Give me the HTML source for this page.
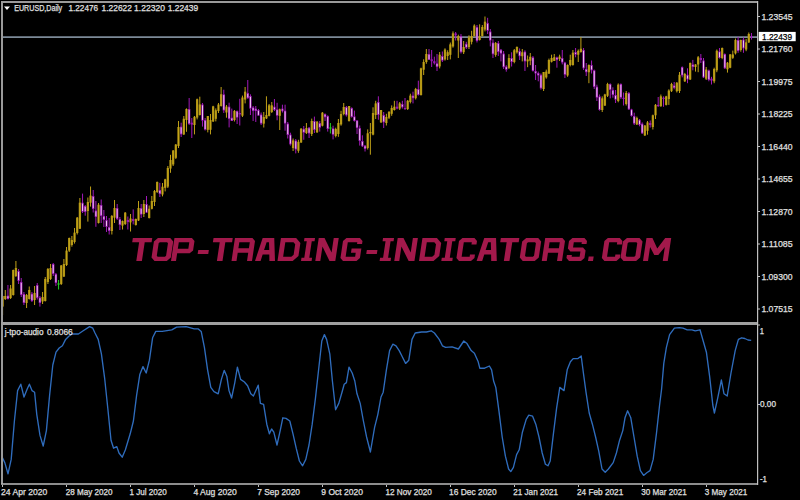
<!DOCTYPE html>
<html><head><meta charset="utf-8">
<style>
html,body{margin:0;padding:0;background:#000;}
body{width:800px;height:500px;overflow:hidden;}
svg{display:block;}
.t{font-family:"Liberation Sans",sans-serif;fill:#e0e0e0;stroke:#e0e0e0;stroke-width:0.25px;}
.wm{font-family:"Liberation Sans",sans-serif;font-weight:bold;font-style:italic;fill:#a0184c;}
</style></head><body>
<svg width="800" height="500" viewBox="0 0 800 500">
<rect x="0" y="0" width="800" height="500" fill="#000"/>
<line x1="3" y1="37.1" x2="757" y2="37.1" stroke="#7c8a98" stroke-width="1.6"/>
<g id="candles">
<line x1="2.60" y1="295.6" x2="2.60" y2="315.0" stroke="#c0a018" stroke-width="1"/>
<rect x="1.45" y="296.0" width="2.3" height="10.60" fill="#a88c10"/>
<line x1="2.60" y1="296.0" x2="2.60" y2="306.60" stroke="#ccac20" stroke-width="0.8"/>
<line x1="5.27" y1="290.0" x2="5.27" y2="300.0" stroke="#c0a018" stroke-width="1"/>
<rect x="4.12" y="296.0" width="2.3" height="3.00" fill="#a88c10"/>
<line x1="5.27" y1="296.0" x2="5.27" y2="299.00" stroke="#ccac20" stroke-width="0.8"/>
<line x1="7.93" y1="285.0" x2="7.93" y2="299.5" stroke="#a018b8" stroke-width="1"/>
<rect x="6.78" y="295.6" width="2.3" height="3.40" fill="#9c14b4"/>
<line x1="7.93" y1="296.40" x2="7.93" y2="298.20" stroke="#f6d4f6" stroke-width="0.95"/>
<line x1="10.60" y1="285.0" x2="10.60" y2="299.0" stroke="#c0a018" stroke-width="1"/>
<rect x="9.45" y="288.5" width="2.3" height="9.50" fill="#a88c10"/>
<line x1="10.60" y1="288.5" x2="10.60" y2="298.00" stroke="#ccac20" stroke-width="0.8"/>
<line x1="13.26" y1="269.6" x2="13.26" y2="295.6" stroke="#c0a018" stroke-width="1"/>
<rect x="12.11" y="270.0" width="2.3" height="25.00" fill="#a88c10"/>
<line x1="13.26" y1="270.0" x2="13.26" y2="295.00" stroke="#ccac20" stroke-width="0.8"/>
<line x1="15.92" y1="261.0" x2="15.92" y2="277.0" stroke="#c0a018" stroke-width="1"/>
<rect x="14.77" y="268.0" width="2.3" height="8.00" fill="#a88c10"/>
<line x1="15.92" y1="268.0" x2="15.92" y2="276.00" stroke="#ccac20" stroke-width="0.8"/>
<line x1="18.59" y1="269.0" x2="18.59" y2="284.0" stroke="#a018b8" stroke-width="1"/>
<rect x="17.44" y="271.0" width="2.3" height="10.00" fill="#9c14b4"/>
<line x1="18.59" y1="271.80" x2="18.59" y2="280.20" stroke="#f6d4f6" stroke-width="0.95"/>
<line x1="21.26" y1="278.0" x2="21.26" y2="297.0" stroke="#a018b8" stroke-width="1"/>
<rect x="20.11" y="282.0" width="2.3" height="13.00" fill="#9c14b4"/>
<line x1="21.26" y1="282.80" x2="21.26" y2="294.20" stroke="#f6d4f6" stroke-width="0.95"/>
<line x1="23.92" y1="292.0" x2="23.92" y2="305.0" stroke="#a018b8" stroke-width="1"/>
<rect x="22.77" y="294.0" width="2.3" height="9.00" fill="#9c14b4"/>
<line x1="23.92" y1="294.80" x2="23.92" y2="302.20" stroke="#f6d4f6" stroke-width="0.95"/>
<line x1="26.59" y1="294.0" x2="26.59" y2="308.0" stroke="#c0a018" stroke-width="1"/>
<rect x="25.44" y="295.0" width="2.3" height="8.00" fill="#a88c10"/>
<line x1="26.59" y1="295.0" x2="26.59" y2="303.00" stroke="#ccac20" stroke-width="0.8"/>
<line x1="29.25" y1="286.5" x2="29.25" y2="299.5" stroke="#c0a018" stroke-width="1"/>
<rect x="28.10" y="290.0" width="2.3" height="9.00" fill="#a88c10"/>
<line x1="29.25" y1="290.0" x2="29.25" y2="299.00" stroke="#ccac20" stroke-width="0.8"/>
<line x1="31.92" y1="292.0" x2="31.92" y2="302.0" stroke="#a018b8" stroke-width="1"/>
<rect x="30.77" y="293.7" width="2.3" height="7.30" fill="#9c14b4"/>
<line x1="31.92" y1="294.50" x2="31.92" y2="300.20" stroke="#f6d4f6" stroke-width="0.95"/>
<line x1="34.58" y1="286.0" x2="34.58" y2="305.0" stroke="#c0a018" stroke-width="1"/>
<rect x="33.43" y="293.0" width="2.3" height="7.00" fill="#a88c10"/>
<line x1="34.58" y1="293.0" x2="34.58" y2="300.00" stroke="#ccac20" stroke-width="0.8"/>
<line x1="37.25" y1="283.0" x2="37.25" y2="299.5" stroke="#a018b8" stroke-width="1"/>
<rect x="36.10" y="285.0" width="2.3" height="13.00" fill="#9c14b4"/>
<line x1="37.25" y1="285.80" x2="37.25" y2="297.20" stroke="#f6d4f6" stroke-width="0.95"/>
<line x1="39.91" y1="296.0" x2="39.91" y2="306.6" stroke="#a018b8" stroke-width="1"/>
<rect x="38.76" y="297.5" width="2.3" height="5.50" fill="#9c14b4"/>
<line x1="39.91" y1="298.30" x2="39.91" y2="302.20" stroke="#f6d4f6" stroke-width="0.95"/>
<line x1="42.58" y1="292.0" x2="42.58" y2="304.0" stroke="#c0a018" stroke-width="1"/>
<rect x="41.43" y="297.0" width="2.3" height="4.50" fill="#a88c10"/>
<line x1="42.58" y1="297.0" x2="42.58" y2="301.50" stroke="#ccac20" stroke-width="0.8"/>
<line x1="45.24" y1="277.0" x2="45.24" y2="301.5" stroke="#c0a018" stroke-width="1"/>
<rect x="44.09" y="279.0" width="2.3" height="22.00" fill="#a88c10"/>
<line x1="45.24" y1="279.0" x2="45.24" y2="301.00" stroke="#ccac20" stroke-width="0.8"/>
<line x1="47.91" y1="268.0" x2="47.91" y2="284.0" stroke="#c0a018" stroke-width="1"/>
<rect x="46.76" y="269.0" width="2.3" height="13.00" fill="#a88c10"/>
<line x1="47.91" y1="269.0" x2="47.91" y2="282.00" stroke="#ccac20" stroke-width="0.8"/>
<line x1="50.57" y1="264.0" x2="50.57" y2="280.0" stroke="#c0a018" stroke-width="1"/>
<rect x="49.42" y="268.0" width="2.3" height="11.00" fill="#a88c10"/>
<line x1="50.57" y1="268.0" x2="50.57" y2="279.00" stroke="#ccac20" stroke-width="0.8"/>
<line x1="53.23" y1="263.0" x2="53.23" y2="276.0" stroke="#a018b8" stroke-width="1"/>
<rect x="52.09" y="264.0" width="2.3" height="10.00" fill="#9c14b4"/>
<line x1="53.23" y1="264.80" x2="53.23" y2="273.20" stroke="#f6d4f6" stroke-width="0.95"/>
<line x1="55.90" y1="273.0" x2="55.90" y2="286.0" stroke="#a018b8" stroke-width="1"/>
<rect x="54.75" y="274.0" width="2.3" height="9.00" fill="#9c14b4"/>
<line x1="55.90" y1="274.80" x2="55.90" y2="282.20" stroke="#f6d4f6" stroke-width="0.95"/>
<line x1="58.57" y1="280.0" x2="58.57" y2="289.5" stroke="#22d022" stroke-width="1"/>
<line x1="57.27" y1="284.0" x2="59.87" y2="284.0" stroke="#22d022" stroke-width="1"/>
<line x1="61.23" y1="265.0" x2="61.23" y2="285.0" stroke="#c0a018" stroke-width="1"/>
<rect x="60.08" y="265.5" width="2.3" height="18.50" fill="#a88c10"/>
<line x1="61.23" y1="265.5" x2="61.23" y2="284.00" stroke="#ccac20" stroke-width="0.8"/>
<line x1="63.90" y1="259.0" x2="63.90" y2="277.0" stroke="#c0a018" stroke-width="1"/>
<rect x="62.75" y="264.0" width="2.3" height="12.50" fill="#a88c10"/>
<line x1="63.90" y1="264.0" x2="63.90" y2="276.50" stroke="#ccac20" stroke-width="0.8"/>
<line x1="66.56" y1="247.0" x2="66.56" y2="266.0" stroke="#c0a018" stroke-width="1"/>
<rect x="65.41" y="250.6" width="2.3" height="14.40" fill="#a88c10"/>
<line x1="66.56" y1="250.6" x2="66.56" y2="265.00" stroke="#ccac20" stroke-width="0.8"/>
<line x1="69.22" y1="237.6" x2="69.22" y2="252.0" stroke="#c0a018" stroke-width="1"/>
<rect x="68.07" y="238.0" width="2.3" height="12.60" fill="#a88c10"/>
<line x1="69.22" y1="238.0" x2="69.22" y2="250.60" stroke="#ccac20" stroke-width="0.8"/>
<line x1="71.89" y1="236.0" x2="71.89" y2="246.7" stroke="#c0a018" stroke-width="1"/>
<rect x="70.74" y="240.0" width="2.3" height="5.00" fill="#a88c10"/>
<line x1="71.89" y1="240.0" x2="71.89" y2="245.00" stroke="#ccac20" stroke-width="0.8"/>
<line x1="74.55" y1="228.0" x2="74.55" y2="243.6" stroke="#c0a018" stroke-width="1"/>
<rect x="73.40" y="232.6" width="2.3" height="9.40" fill="#a88c10"/>
<line x1="74.55" y1="232.6" x2="74.55" y2="242.00" stroke="#ccac20" stroke-width="0.8"/>
<line x1="77.22" y1="217.0" x2="77.22" y2="234.5" stroke="#c0a018" stroke-width="1"/>
<rect x="76.07" y="217.7" width="2.3" height="15.30" fill="#a88c10"/>
<line x1="77.22" y1="217.7" x2="77.22" y2="233.00" stroke="#ccac20" stroke-width="0.8"/>
<line x1="79.88" y1="198.0" x2="79.88" y2="229.0" stroke="#c0a018" stroke-width="1"/>
<rect x="78.73" y="202.7" width="2.3" height="26.00" fill="#a88c10"/>
<line x1="79.88" y1="202.7" x2="79.88" y2="228.70" stroke="#ccac20" stroke-width="0.8"/>
<line x1="82.55" y1="193.6" x2="82.55" y2="213.0" stroke="#a018b8" stroke-width="1"/>
<rect x="81.40" y="202.7" width="2.3" height="9.10" fill="#9c14b4"/>
<line x1="82.55" y1="203.50" x2="82.55" y2="211.00" stroke="#f6d4f6" stroke-width="0.95"/>
<line x1="85.21" y1="205.0" x2="85.21" y2="215.7" stroke="#a018b8" stroke-width="1"/>
<rect x="84.06" y="206.0" width="2.3" height="6.00" fill="#9c14b4"/>
<line x1="85.21" y1="206.80" x2="85.21" y2="211.20" stroke="#f6d4f6" stroke-width="0.95"/>
<line x1="87.88" y1="197.5" x2="87.88" y2="221.6" stroke="#c0a018" stroke-width="1"/>
<rect x="86.73" y="202.0" width="2.3" height="9.00" fill="#a88c10"/>
<line x1="87.88" y1="202.0" x2="87.88" y2="211.00" stroke="#ccac20" stroke-width="0.8"/>
<line x1="90.55" y1="186.5" x2="90.55" y2="206.6" stroke="#c0a018" stroke-width="1"/>
<rect x="89.39" y="195.6" width="2.3" height="7.10" fill="#a88c10"/>
<line x1="90.55" y1="195.6" x2="90.55" y2="202.70" stroke="#ccac20" stroke-width="0.8"/>
<line x1="93.21" y1="190.0" x2="93.21" y2="212.5" stroke="#a018b8" stroke-width="1"/>
<rect x="92.06" y="196.0" width="2.3" height="13.00" fill="#9c14b4"/>
<line x1="93.21" y1="196.80" x2="93.21" y2="208.20" stroke="#f6d4f6" stroke-width="0.95"/>
<line x1="95.88" y1="201.0" x2="95.88" y2="226.8" stroke="#a018b8" stroke-width="1"/>
<rect x="94.72" y="210.5" width="2.3" height="6.50" fill="#9c14b4"/>
<line x1="95.88" y1="211.30" x2="95.88" y2="216.20" stroke="#f6d4f6" stroke-width="0.95"/>
<line x1="98.54" y1="203.0" x2="98.54" y2="223.5" stroke="#c0a018" stroke-width="1"/>
<rect x="97.39" y="204.7" width="2.3" height="18.30" fill="#a88c10"/>
<line x1="98.54" y1="204.7" x2="98.54" y2="223.00" stroke="#ccac20" stroke-width="0.8"/>
<line x1="101.20" y1="199.5" x2="101.20" y2="223.0" stroke="#a018b8" stroke-width="1"/>
<rect x="100.05" y="205.0" width="2.3" height="11.00" fill="#9c14b4"/>
<line x1="101.20" y1="205.80" x2="101.20" y2="215.20" stroke="#f6d4f6" stroke-width="0.95"/>
<line x1="103.87" y1="210.0" x2="103.87" y2="227.0" stroke="#a018b8" stroke-width="1"/>
<rect x="102.72" y="216.0" width="2.3" height="4.00" fill="#9c14b4"/>
<line x1="103.87" y1="216.80" x2="103.87" y2="219.20" stroke="#f6d4f6" stroke-width="0.95"/>
<line x1="106.53" y1="216.0" x2="106.53" y2="232.0" stroke="#a018b8" stroke-width="1"/>
<rect x="105.38" y="220.0" width="2.3" height="7.00" fill="#9c14b4"/>
<line x1="106.53" y1="220.80" x2="106.53" y2="226.20" stroke="#f6d4f6" stroke-width="0.95"/>
<line x1="109.20" y1="218.0" x2="109.20" y2="234.5" stroke="#a018b8" stroke-width="1"/>
<rect x="108.05" y="227.0" width="2.3" height="4.00" fill="#9c14b4"/>
<line x1="109.20" y1="227.80" x2="109.20" y2="230.20" stroke="#f6d4f6" stroke-width="0.95"/>
<line x1="111.86" y1="215.0" x2="111.86" y2="234.5" stroke="#c0a018" stroke-width="1"/>
<rect x="110.71" y="216.0" width="2.3" height="15.00" fill="#a88c10"/>
<line x1="111.86" y1="216.0" x2="111.86" y2="231.00" stroke="#ccac20" stroke-width="0.8"/>
<line x1="114.53" y1="200.0" x2="114.53" y2="223.0" stroke="#c0a018" stroke-width="1"/>
<rect x="113.38" y="208.0" width="2.3" height="9.70" fill="#a88c10"/>
<line x1="114.53" y1="208.0" x2="114.53" y2="217.70" stroke="#ccac20" stroke-width="0.8"/>
<line x1="117.19" y1="204.0" x2="117.19" y2="220.0" stroke="#a018b8" stroke-width="1"/>
<rect x="116.04" y="208.0" width="2.3" height="11.00" fill="#9c14b4"/>
<line x1="117.19" y1="208.80" x2="117.19" y2="218.20" stroke="#f6d4f6" stroke-width="0.95"/>
<line x1="119.86" y1="217.0" x2="119.86" y2="230.0" stroke="#a018b8" stroke-width="1"/>
<rect x="118.71" y="219.0" width="2.3" height="6.00" fill="#9c14b4"/>
<line x1="119.86" y1="219.80" x2="119.86" y2="224.20" stroke="#f6d4f6" stroke-width="0.95"/>
<line x1="122.52" y1="220.5" x2="122.52" y2="229.5" stroke="#c0a018" stroke-width="1"/>
<rect x="121.37" y="221.0" width="2.3" height="4.60" fill="#a88c10"/>
<line x1="122.52" y1="221.0" x2="122.52" y2="225.60" stroke="#ccac20" stroke-width="0.8"/>
<line x1="125.19" y1="212.0" x2="125.19" y2="225.0" stroke="#c0a018" stroke-width="1"/>
<rect x="124.04" y="212.7" width="2.3" height="11.30" fill="#a88c10"/>
<line x1="125.19" y1="212.7" x2="125.19" y2="224.00" stroke="#ccac20" stroke-width="0.8"/>
<line x1="127.85" y1="216.5" x2="127.85" y2="229.5" stroke="#a018b8" stroke-width="1"/>
<rect x="126.70" y="220.0" width="2.3" height="2.00" fill="#9c14b4"/>
<line x1="130.52" y1="214.0" x2="130.52" y2="231.5" stroke="#c0a018" stroke-width="1"/>
<rect x="129.37" y="218.5" width="2.3" height="3.90" fill="#a88c10"/>
<line x1="130.52" y1="218.5" x2="130.52" y2="222.40" stroke="#ccac20" stroke-width="0.8"/>
<line x1="133.19" y1="209.4" x2="133.19" y2="224.4" stroke="#a018b8" stroke-width="1"/>
<rect x="132.03" y="219.0" width="2.3" height="2.00" fill="#9c14b4"/>
<line x1="135.85" y1="218.5" x2="135.85" y2="225.6" stroke="#c0a018" stroke-width="1"/>
<rect x="134.70" y="219.0" width="2.3" height="6.00" fill="#a88c10"/>
<line x1="135.85" y1="219.0" x2="135.85" y2="225.00" stroke="#ccac20" stroke-width="0.8"/>
<line x1="138.51" y1="201.0" x2="138.51" y2="221.0" stroke="#c0a018" stroke-width="1"/>
<rect x="137.36" y="208.0" width="2.3" height="12.50" fill="#a88c10"/>
<line x1="138.51" y1="208.0" x2="138.51" y2="220.50" stroke="#ccac20" stroke-width="0.8"/>
<line x1="141.18" y1="204.0" x2="141.18" y2="218.0" stroke="#a018b8" stroke-width="1"/>
<rect x="140.03" y="208.0" width="2.3" height="6.60" fill="#9c14b4"/>
<line x1="141.18" y1="208.80" x2="141.18" y2="213.80" stroke="#f6d4f6" stroke-width="0.95"/>
<line x1="143.84" y1="200.0" x2="143.84" y2="217.0" stroke="#c0a018" stroke-width="1"/>
<rect x="142.69" y="204.0" width="2.3" height="10.00" fill="#a88c10"/>
<line x1="143.84" y1="204.0" x2="143.84" y2="214.00" stroke="#ccac20" stroke-width="0.8"/>
<line x1="146.51" y1="196.0" x2="146.51" y2="213.0" stroke="#a018b8" stroke-width="1"/>
<rect x="145.36" y="204.0" width="2.3" height="8.70" fill="#9c14b4"/>
<line x1="146.51" y1="204.80" x2="146.51" y2="211.90" stroke="#f6d4f6" stroke-width="0.95"/>
<line x1="149.17" y1="205.5" x2="149.17" y2="218.5" stroke="#c0a018" stroke-width="1"/>
<rect x="148.02" y="208.8" width="2.3" height="9.20" fill="#a88c10"/>
<line x1="149.17" y1="208.8" x2="149.17" y2="218.00" stroke="#ccac20" stroke-width="0.8"/>
<line x1="151.84" y1="196.0" x2="151.84" y2="209.4" stroke="#c0a018" stroke-width="1"/>
<rect x="150.69" y="201.0" width="2.3" height="7.80" fill="#a88c10"/>
<line x1="151.84" y1="201.0" x2="151.84" y2="208.80" stroke="#ccac20" stroke-width="0.8"/>
<line x1="154.50" y1="190.0" x2="154.50" y2="206.0" stroke="#c0a018" stroke-width="1"/>
<rect x="153.35" y="191.0" width="2.3" height="11.00" fill="#a88c10"/>
<line x1="154.50" y1="191.0" x2="154.50" y2="202.00" stroke="#ccac20" stroke-width="0.8"/>
<line x1="157.17" y1="181.5" x2="157.17" y2="193.0" stroke="#c0a018" stroke-width="1"/>
<rect x="156.02" y="182.0" width="2.3" height="10.00" fill="#a88c10"/>
<line x1="157.17" y1="182.0" x2="157.17" y2="192.00" stroke="#ccac20" stroke-width="0.8"/>
<line x1="159.84" y1="182.8" x2="159.84" y2="197.0" stroke="#a018b8" stroke-width="1"/>
<rect x="158.69" y="190.0" width="2.3" height="4.00" fill="#9c14b4"/>
<line x1="159.84" y1="190.80" x2="159.84" y2="193.20" stroke="#f6d4f6" stroke-width="0.95"/>
<line x1="162.50" y1="183.0" x2="162.50" y2="196.4" stroke="#c0a018" stroke-width="1"/>
<rect x="161.35" y="186.7" width="2.3" height="7.80" fill="#a88c10"/>
<line x1="162.50" y1="186.7" x2="162.50" y2="194.50" stroke="#ccac20" stroke-width="0.8"/>
<line x1="165.16" y1="178.8" x2="165.16" y2="191.4" stroke="#c0a018" stroke-width="1"/>
<rect x="164.01" y="179.4" width="2.3" height="8.40" fill="#a88c10"/>
<line x1="165.16" y1="179.4" x2="165.16" y2="187.80" stroke="#ccac20" stroke-width="0.8"/>
<line x1="167.83" y1="166.0" x2="167.83" y2="188.0" stroke="#c0a018" stroke-width="1"/>
<rect x="166.68" y="168.0" width="2.3" height="18.60" fill="#a88c10"/>
<line x1="167.83" y1="168.0" x2="167.83" y2="186.60" stroke="#ccac20" stroke-width="0.8"/>
<line x1="170.50" y1="154.8" x2="170.50" y2="172.8" stroke="#c0a018" stroke-width="1"/>
<rect x="169.34" y="160.0" width="2.3" height="8.60" fill="#a88c10"/>
<line x1="170.50" y1="160.0" x2="170.50" y2="168.60" stroke="#ccac20" stroke-width="0.8"/>
<line x1="173.16" y1="150.0" x2="173.16" y2="166.0" stroke="#c0a018" stroke-width="1"/>
<rect x="172.01" y="150.6" width="2.3" height="13.80" fill="#a88c10"/>
<line x1="173.16" y1="150.6" x2="173.16" y2="164.40" stroke="#ccac20" stroke-width="0.8"/>
<line x1="175.82" y1="144.0" x2="175.82" y2="159.0" stroke="#c0a018" stroke-width="1"/>
<rect x="174.67" y="144.6" width="2.3" height="13.20" fill="#a88c10"/>
<line x1="175.82" y1="144.6" x2="175.82" y2="157.80" stroke="#ccac20" stroke-width="0.8"/>
<line x1="178.49" y1="121.0" x2="178.49" y2="148.0" stroke="#c0a018" stroke-width="1"/>
<rect x="177.34" y="127.0" width="2.3" height="19.00" fill="#a88c10"/>
<line x1="178.49" y1="127.0" x2="178.49" y2="146.00" stroke="#ccac20" stroke-width="0.8"/>
<line x1="181.16" y1="122.7" x2="181.16" y2="137.0" stroke="#a018b8" stroke-width="1"/>
<rect x="180.00" y="126.6" width="2.3" height="7.80" fill="#9c14b4"/>
<line x1="181.16" y1="127.40" x2="181.16" y2="133.60" stroke="#f6d4f6" stroke-width="0.95"/>
<line x1="183.82" y1="116.0" x2="183.82" y2="135.0" stroke="#c0a018" stroke-width="1"/>
<rect x="182.67" y="118.8" width="2.3" height="15.60" fill="#a88c10"/>
<line x1="183.82" y1="118.8" x2="183.82" y2="134.40" stroke="#ccac20" stroke-width="0.8"/>
<line x1="186.48" y1="108.4" x2="186.48" y2="131.8" stroke="#c0a018" stroke-width="1"/>
<rect x="185.33" y="109.0" width="2.3" height="11.00" fill="#a88c10"/>
<line x1="186.48" y1="109.0" x2="186.48" y2="120.00" stroke="#ccac20" stroke-width="0.8"/>
<line x1="189.15" y1="98.0" x2="189.15" y2="125.0" stroke="#a018b8" stroke-width="1"/>
<rect x="188.00" y="109.0" width="2.3" height="15.00" fill="#9c14b4"/>
<line x1="189.15" y1="109.80" x2="189.15" y2="123.20" stroke="#f6d4f6" stroke-width="0.95"/>
<line x1="191.81" y1="118.0" x2="191.81" y2="138.0" stroke="#a018b8" stroke-width="1"/>
<rect x="190.66" y="122.7" width="2.3" height="1.90" fill="#9c14b4"/>
<line x1="194.48" y1="116.0" x2="194.48" y2="134.4" stroke="#c0a018" stroke-width="1"/>
<rect x="193.33" y="116.8" width="2.3" height="8.20" fill="#a88c10"/>
<line x1="194.48" y1="116.8" x2="194.48" y2="125.00" stroke="#ccac20" stroke-width="0.8"/>
<line x1="197.15" y1="98.6" x2="197.15" y2="119.4" stroke="#c0a018" stroke-width="1"/>
<rect x="196.00" y="99.3" width="2.3" height="18.20" fill="#a88c10"/>
<line x1="197.15" y1="99.3" x2="197.15" y2="117.50" stroke="#ccac20" stroke-width="0.8"/>
<line x1="199.81" y1="96.7" x2="199.81" y2="115.5" stroke="#c0a018" stroke-width="1"/>
<rect x="198.66" y="104.5" width="2.3" height="10.50" fill="#a88c10"/>
<line x1="199.81" y1="104.5" x2="199.81" y2="115.00" stroke="#ccac20" stroke-width="0.8"/>
<line x1="202.47" y1="103.0" x2="202.47" y2="126.6" stroke="#a018b8" stroke-width="1"/>
<rect x="201.32" y="104.5" width="2.3" height="16.20" fill="#9c14b4"/>
<line x1="202.47" y1="105.30" x2="202.47" y2="119.90" stroke="#f6d4f6" stroke-width="0.95"/>
<line x1="205.14" y1="118.0" x2="205.14" y2="130.5" stroke="#a018b8" stroke-width="1"/>
<rect x="203.99" y="120.0" width="2.3" height="9.80" fill="#9c14b4"/>
<line x1="205.14" y1="120.80" x2="205.14" y2="129.00" stroke="#f6d4f6" stroke-width="0.95"/>
<line x1="207.81" y1="116.0" x2="207.81" y2="132.4" stroke="#c0a018" stroke-width="1"/>
<rect x="206.66" y="116.0" width="2.3" height="13.80" fill="#a88c10"/>
<line x1="207.81" y1="116.0" x2="207.81" y2="129.80" stroke="#ccac20" stroke-width="0.8"/>
<line x1="210.47" y1="114.0" x2="210.47" y2="134.4" stroke="#c0a018" stroke-width="1"/>
<rect x="209.32" y="120.0" width="2.3" height="9.80" fill="#a88c10"/>
<line x1="210.47" y1="120.0" x2="210.47" y2="129.80" stroke="#ccac20" stroke-width="0.8"/>
<line x1="213.13" y1="105.8" x2="213.13" y2="122.0" stroke="#c0a018" stroke-width="1"/>
<rect x="211.98" y="106.4" width="2.3" height="15.00" fill="#a88c10"/>
<line x1="213.13" y1="106.4" x2="213.13" y2="121.40" stroke="#ccac20" stroke-width="0.8"/>
<line x1="215.80" y1="108.4" x2="215.80" y2="121.4" stroke="#c0a018" stroke-width="1"/>
<rect x="214.65" y="110.3" width="2.3" height="8.50" fill="#a88c10"/>
<line x1="215.80" y1="110.3" x2="215.80" y2="118.80" stroke="#ccac20" stroke-width="0.8"/>
<line x1="218.47" y1="103.0" x2="218.47" y2="113.0" stroke="#c0a018" stroke-width="1"/>
<rect x="217.31" y="104.5" width="2.3" height="6.50" fill="#a88c10"/>
<line x1="218.47" y1="104.5" x2="218.47" y2="111.00" stroke="#ccac20" stroke-width="0.8"/>
<line x1="221.13" y1="87.0" x2="221.13" y2="106.6" stroke="#c0a018" stroke-width="1"/>
<rect x="219.98" y="94.3" width="2.3" height="11.70" fill="#a88c10"/>
<line x1="221.13" y1="94.3" x2="221.13" y2="106.00" stroke="#ccac20" stroke-width="0.8"/>
<line x1="223.79" y1="89.7" x2="223.79" y2="113.0" stroke="#a018b8" stroke-width="1"/>
<rect x="222.64" y="94.3" width="2.3" height="16.20" fill="#9c14b4"/>
<line x1="223.79" y1="95.10" x2="223.79" y2="109.70" stroke="#f6d4f6" stroke-width="0.95"/>
<line x1="226.46" y1="105.0" x2="226.46" y2="117.7" stroke="#c0a018" stroke-width="1"/>
<rect x="225.31" y="106.6" width="2.3" height="5.90" fill="#a88c10"/>
<line x1="226.46" y1="106.6" x2="226.46" y2="112.50" stroke="#ccac20" stroke-width="0.8"/>
<line x1="229.12" y1="102.7" x2="229.12" y2="127.4" stroke="#a018b8" stroke-width="1"/>
<rect x="227.97" y="106.6" width="2.3" height="12.40" fill="#9c14b4"/>
<line x1="229.12" y1="107.40" x2="229.12" y2="118.20" stroke="#f6d4f6" stroke-width="0.95"/>
<line x1="231.79" y1="108.6" x2="231.79" y2="121.0" stroke="#a018b8" stroke-width="1"/>
<rect x="230.64" y="117.7" width="2.3" height="3.30" fill="#9c14b4"/>
<line x1="231.79" y1="118.50" x2="231.79" y2="120.20" stroke="#f6d4f6" stroke-width="0.95"/>
<line x1="234.45" y1="110.0" x2="234.45" y2="121.5" stroke="#c0a018" stroke-width="1"/>
<rect x="233.30" y="111.0" width="2.3" height="9.00" fill="#a88c10"/>
<line x1="234.45" y1="111.0" x2="234.45" y2="120.00" stroke="#ccac20" stroke-width="0.8"/>
<line x1="237.12" y1="110.5" x2="237.12" y2="124.0" stroke="#a018b8" stroke-width="1"/>
<rect x="235.97" y="111.0" width="2.3" height="6.70" fill="#9c14b4"/>
<line x1="237.12" y1="111.80" x2="237.12" y2="116.90" stroke="#f6d4f6" stroke-width="0.95"/>
<line x1="239.78" y1="98.8" x2="239.78" y2="125.5" stroke="#a018b8" stroke-width="1"/>
<rect x="238.63" y="113.0" width="2.3" height="1.40" fill="#9c14b4"/>
<line x1="242.45" y1="95.6" x2="242.45" y2="117.0" stroke="#c0a018" stroke-width="1"/>
<rect x="241.30" y="97.5" width="2.3" height="18.20" fill="#a88c10"/>
<line x1="242.45" y1="97.5" x2="242.45" y2="115.70" stroke="#ccac20" stroke-width="0.8"/>
<line x1="245.12" y1="87.0" x2="245.12" y2="103.4" stroke="#c0a018" stroke-width="1"/>
<rect x="243.97" y="91.7" width="2.3" height="7.80" fill="#a88c10"/>
<line x1="245.12" y1="91.7" x2="245.12" y2="99.50" stroke="#ccac20" stroke-width="0.8"/>
<line x1="247.78" y1="80.0" x2="247.78" y2="98.8" stroke="#a018b8" stroke-width="1"/>
<rect x="246.63" y="93.0" width="2.3" height="5.20" fill="#9c14b4"/>
<line x1="247.78" y1="93.80" x2="247.78" y2="97.40" stroke="#f6d4f6" stroke-width="0.95"/>
<line x1="250.44" y1="94.3" x2="250.44" y2="115.0" stroke="#a018b8" stroke-width="1"/>
<rect x="249.29" y="96.0" width="2.3" height="12.60" fill="#9c14b4"/>
<line x1="250.44" y1="96.80" x2="250.44" y2="107.80" stroke="#f6d4f6" stroke-width="0.95"/>
<line x1="253.11" y1="106.0" x2="253.11" y2="121.0" stroke="#a018b8" stroke-width="1"/>
<rect x="251.96" y="107.3" width="2.3" height="3.70" fill="#9c14b4"/>
<line x1="253.11" y1="108.10" x2="253.11" y2="110.20" stroke="#f6d4f6" stroke-width="0.95"/>
<line x1="255.78" y1="106.0" x2="255.78" y2="122.0" stroke="#a018b8" stroke-width="1"/>
<rect x="254.62" y="108.6" width="2.3" height="2.40" fill="#9c14b4"/>
<line x1="255.78" y1="109.40" x2="255.78" y2="110.20" stroke="#f6d4f6" stroke-width="0.95"/>
<line x1="258.44" y1="109.0" x2="258.44" y2="115.7" stroke="#a018b8" stroke-width="1"/>
<rect x="257.29" y="110.0" width="2.3" height="5.70" fill="#9c14b4"/>
<line x1="258.44" y1="110.80" x2="258.44" y2="114.90" stroke="#f6d4f6" stroke-width="0.95"/>
<line x1="261.11" y1="112.5" x2="261.11" y2="125.0" stroke="#a018b8" stroke-width="1"/>
<rect x="259.96" y="114.5" width="2.3" height="9.10" fill="#9c14b4"/>
<line x1="261.11" y1="115.30" x2="261.11" y2="122.80" stroke="#f6d4f6" stroke-width="0.95"/>
<line x1="263.77" y1="112.0" x2="263.77" y2="127.5" stroke="#c0a018" stroke-width="1"/>
<rect x="262.62" y="117.0" width="2.3" height="6.60" fill="#a88c10"/>
<line x1="263.77" y1="117.0" x2="263.77" y2="123.60" stroke="#ccac20" stroke-width="0.8"/>
<line x1="266.44" y1="96.3" x2="266.44" y2="119.0" stroke="#c0a018" stroke-width="1"/>
<rect x="265.29" y="115.0" width="2.3" height="3.40" fill="#a88c10"/>
<line x1="266.44" y1="115.0" x2="266.44" y2="118.40" stroke="#ccac20" stroke-width="0.8"/>
<line x1="269.10" y1="104.0" x2="269.10" y2="116.4" stroke="#c0a018" stroke-width="1"/>
<rect x="267.95" y="105.4" width="2.3" height="10.40" fill="#a88c10"/>
<line x1="269.10" y1="105.4" x2="269.10" y2="115.80" stroke="#ccac20" stroke-width="0.8"/>
<line x1="271.77" y1="102.0" x2="271.77" y2="113.0" stroke="#c0a018" stroke-width="1"/>
<rect x="270.62" y="105.4" width="2.3" height="6.60" fill="#a88c10"/>
<line x1="271.77" y1="105.4" x2="271.77" y2="112.00" stroke="#ccac20" stroke-width="0.8"/>
<line x1="274.43" y1="99.0" x2="274.43" y2="111.0" stroke="#a018b8" stroke-width="1"/>
<rect x="273.28" y="106.7" width="2.3" height="3.30" fill="#9c14b4"/>
<line x1="274.43" y1="107.50" x2="274.43" y2="109.20" stroke="#f6d4f6" stroke-width="0.95"/>
<line x1="277.10" y1="102.8" x2="277.10" y2="120.3" stroke="#a018b8" stroke-width="1"/>
<rect x="275.95" y="109.3" width="2.3" height="6.50" fill="#9c14b4"/>
<line x1="277.10" y1="110.10" x2="277.10" y2="115.00" stroke="#f6d4f6" stroke-width="0.95"/>
<line x1="279.76" y1="108.6" x2="279.76" y2="130.0" stroke="#c0a018" stroke-width="1"/>
<rect x="278.61" y="109.3" width="2.3" height="6.50" fill="#a88c10"/>
<line x1="279.76" y1="109.3" x2="279.76" y2="115.80" stroke="#ccac20" stroke-width="0.8"/>
<line x1="282.43" y1="104.7" x2="282.43" y2="112.5" stroke="#a018b8" stroke-width="1"/>
<rect x="281.28" y="108.6" width="2.3" height="2.60" fill="#9c14b4"/>
<line x1="282.43" y1="109.40" x2="282.43" y2="110.40" stroke="#f6d4f6" stroke-width="0.95"/>
<line x1="285.09" y1="104.7" x2="285.09" y2="130.7" stroke="#a018b8" stroke-width="1"/>
<rect x="283.94" y="110.6" width="2.3" height="13.00" fill="#9c14b4"/>
<line x1="285.09" y1="111.40" x2="285.09" y2="122.80" stroke="#f6d4f6" stroke-width="0.95"/>
<line x1="287.76" y1="122.0" x2="287.76" y2="138.5" stroke="#a018b8" stroke-width="1"/>
<rect x="286.61" y="123.6" width="2.3" height="11.40" fill="#9c14b4"/>
<line x1="287.76" y1="124.40" x2="287.76" y2="134.20" stroke="#f6d4f6" stroke-width="0.95"/>
<line x1="290.42" y1="132.7" x2="290.42" y2="145.6" stroke="#a018b8" stroke-width="1"/>
<rect x="289.27" y="134.6" width="2.3" height="9.80" fill="#9c14b4"/>
<line x1="290.42" y1="135.40" x2="290.42" y2="143.60" stroke="#f6d4f6" stroke-width="0.95"/>
<line x1="293.09" y1="138.5" x2="293.09" y2="151.0" stroke="#c0a018" stroke-width="1"/>
<rect x="291.94" y="140.5" width="2.3" height="7.50" fill="#a88c10"/>
<line x1="293.09" y1="140.5" x2="293.09" y2="148.00" stroke="#ccac20" stroke-width="0.8"/>
<line x1="295.75" y1="139.0" x2="295.75" y2="153.4" stroke="#a018b8" stroke-width="1"/>
<rect x="294.60" y="140.5" width="2.3" height="9.00" fill="#9c14b4"/>
<line x1="295.75" y1="141.30" x2="295.75" y2="148.70" stroke="#f6d4f6" stroke-width="0.95"/>
<line x1="298.42" y1="139.8" x2="298.42" y2="152.8" stroke="#c0a018" stroke-width="1"/>
<rect x="297.27" y="141.8" width="2.3" height="9.00" fill="#a88c10"/>
<line x1="298.42" y1="141.8" x2="298.42" y2="150.80" stroke="#ccac20" stroke-width="0.8"/>
<line x1="301.08" y1="128.0" x2="301.08" y2="143.0" stroke="#c0a018" stroke-width="1"/>
<rect x="299.93" y="128.8" width="2.3" height="13.60" fill="#a88c10"/>
<line x1="301.08" y1="128.8" x2="301.08" y2="142.40" stroke="#ccac20" stroke-width="0.8"/>
<line x1="303.75" y1="126.0" x2="303.75" y2="139.8" stroke="#a018b8" stroke-width="1"/>
<rect x="302.60" y="128.8" width="2.3" height="3.90" fill="#9c14b4"/>
<line x1="303.75" y1="129.60" x2="303.75" y2="131.90" stroke="#f6d4f6" stroke-width="0.95"/>
<line x1="306.41" y1="123.0" x2="306.41" y2="134.0" stroke="#c0a018" stroke-width="1"/>
<rect x="305.26" y="128.0" width="2.3" height="5.00" fill="#a88c10"/>
<line x1="306.41" y1="128.0" x2="306.41" y2="133.00" stroke="#ccac20" stroke-width="0.8"/>
<line x1="309.08" y1="127.0" x2="309.08" y2="138.0" stroke="#a018b8" stroke-width="1"/>
<rect x="307.93" y="127.7" width="2.3" height="5.80" fill="#9c14b4"/>
<line x1="309.08" y1="128.50" x2="309.08" y2="132.70" stroke="#f6d4f6" stroke-width="0.95"/>
<line x1="311.74" y1="118.6" x2="311.74" y2="136.0" stroke="#c0a018" stroke-width="1"/>
<rect x="310.59" y="121.0" width="2.3" height="13.00" fill="#a88c10"/>
<line x1="311.74" y1="121.0" x2="311.74" y2="134.00" stroke="#ccac20" stroke-width="0.8"/>
<line x1="314.41" y1="116.6" x2="314.41" y2="133.0" stroke="#a018b8" stroke-width="1"/>
<rect x="313.26" y="121.0" width="2.3" height="9.00" fill="#9c14b4"/>
<line x1="314.41" y1="121.80" x2="314.41" y2="129.20" stroke="#f6d4f6" stroke-width="0.95"/>
<line x1="317.07" y1="121.0" x2="317.07" y2="133.0" stroke="#c0a018" stroke-width="1"/>
<rect x="315.92" y="121.8" width="2.3" height="10.40" fill="#a88c10"/>
<line x1="317.07" y1="121.8" x2="317.07" y2="132.20" stroke="#ccac20" stroke-width="0.8"/>
<line x1="319.74" y1="121.0" x2="319.74" y2="131.6" stroke="#a018b8" stroke-width="1"/>
<rect x="318.59" y="123.0" width="2.3" height="4.70" fill="#9c14b4"/>
<line x1="319.74" y1="123.80" x2="319.74" y2="126.90" stroke="#f6d4f6" stroke-width="0.95"/>
<line x1="322.40" y1="112.0" x2="322.40" y2="126.4" stroke="#c0a018" stroke-width="1"/>
<rect x="321.25" y="112.7" width="2.3" height="13.00" fill="#a88c10"/>
<line x1="322.40" y1="112.7" x2="322.40" y2="125.70" stroke="#ccac20" stroke-width="0.8"/>
<line x1="325.07" y1="113.4" x2="325.07" y2="121.0" stroke="#a018b8" stroke-width="1"/>
<rect x="323.92" y="114.0" width="2.3" height="3.30" fill="#9c14b4"/>
<line x1="325.07" y1="114.80" x2="325.07" y2="116.50" stroke="#f6d4f6" stroke-width="0.95"/>
<line x1="327.73" y1="115.3" x2="327.73" y2="131.6" stroke="#a018b8" stroke-width="1"/>
<rect x="326.58" y="116.0" width="2.3" height="13.00" fill="#9c14b4"/>
<line x1="327.73" y1="116.80" x2="327.73" y2="128.20" stroke="#f6d4f6" stroke-width="0.95"/>
<line x1="330.40" y1="123.0" x2="330.40" y2="133.5" stroke="#22d022" stroke-width="1"/>
<line x1="329.10" y1="128.0" x2="331.70" y2="128.0" stroke="#22d022" stroke-width="1"/>
<line x1="333.06" y1="125.7" x2="333.06" y2="139.4" stroke="#a018b8" stroke-width="1"/>
<rect x="331.91" y="128.3" width="2.3" height="6.50" fill="#9c14b4"/>
<line x1="333.06" y1="129.10" x2="333.06" y2="134.00" stroke="#f6d4f6" stroke-width="0.95"/>
<line x1="335.73" y1="127.7" x2="335.73" y2="137.4" stroke="#c0a018" stroke-width="1"/>
<rect x="334.58" y="129.0" width="2.3" height="7.00" fill="#a88c10"/>
<line x1="335.73" y1="129.0" x2="335.73" y2="136.00" stroke="#ccac20" stroke-width="0.8"/>
<line x1="338.39" y1="119.0" x2="338.39" y2="136.8" stroke="#c0a018" stroke-width="1"/>
<rect x="337.24" y="123.0" width="2.3" height="11.00" fill="#a88c10"/>
<line x1="338.39" y1="123.0" x2="338.39" y2="134.00" stroke="#ccac20" stroke-width="0.8"/>
<line x1="341.06" y1="110.8" x2="341.06" y2="125.7" stroke="#c0a018" stroke-width="1"/>
<rect x="339.91" y="114.0" width="2.3" height="10.40" fill="#a88c10"/>
<line x1="341.06" y1="114.0" x2="341.06" y2="124.40" stroke="#ccac20" stroke-width="0.8"/>
<line x1="343.72" y1="103.0" x2="343.72" y2="115.3" stroke="#c0a018" stroke-width="1"/>
<rect x="342.57" y="107.0" width="2.3" height="7.00" fill="#a88c10"/>
<line x1="343.72" y1="107.0" x2="343.72" y2="114.00" stroke="#ccac20" stroke-width="0.8"/>
<line x1="346.39" y1="106.0" x2="346.39" y2="116.6" stroke="#a018b8" stroke-width="1"/>
<rect x="345.24" y="107.0" width="2.3" height="8.30" fill="#9c14b4"/>
<line x1="346.39" y1="107.80" x2="346.39" y2="114.50" stroke="#f6d4f6" stroke-width="0.95"/>
<line x1="349.05" y1="106.0" x2="349.05" y2="121.6" stroke="#c0a018" stroke-width="1"/>
<rect x="347.90" y="106.0" width="2.3" height="15.00" fill="#a88c10"/>
<line x1="349.05" y1="106.0" x2="349.05" y2="121.00" stroke="#ccac20" stroke-width="0.8"/>
<line x1="351.72" y1="107.3" x2="351.72" y2="117.7" stroke="#a018b8" stroke-width="1"/>
<rect x="350.57" y="108.0" width="2.3" height="9.00" fill="#9c14b4"/>
<line x1="351.72" y1="108.80" x2="351.72" y2="116.20" stroke="#f6d4f6" stroke-width="0.95"/>
<line x1="354.38" y1="110.6" x2="354.38" y2="121.6" stroke="#a018b8" stroke-width="1"/>
<rect x="353.23" y="116.4" width="2.3" height="4.60" fill="#9c14b4"/>
<line x1="354.38" y1="117.20" x2="354.38" y2="120.20" stroke="#f6d4f6" stroke-width="0.95"/>
<line x1="357.05" y1="120.3" x2="357.05" y2="134.0" stroke="#a018b8" stroke-width="1"/>
<rect x="355.90" y="120.3" width="2.3" height="7.70" fill="#9c14b4"/>
<line x1="357.05" y1="121.10" x2="357.05" y2="127.20" stroke="#f6d4f6" stroke-width="0.95"/>
<line x1="359.71" y1="125.5" x2="359.71" y2="145.6" stroke="#a018b8" stroke-width="1"/>
<rect x="358.56" y="128.0" width="2.3" height="13.00" fill="#9c14b4"/>
<line x1="359.71" y1="128.80" x2="359.71" y2="140.20" stroke="#f6d4f6" stroke-width="0.95"/>
<line x1="362.38" y1="135.3" x2="362.38" y2="147.0" stroke="#a018b8" stroke-width="1"/>
<rect x="361.23" y="141.0" width="2.3" height="5.30" fill="#9c14b4"/>
<line x1="362.38" y1="141.80" x2="362.38" y2="145.50" stroke="#f6d4f6" stroke-width="0.95"/>
<line x1="365.04" y1="145.0" x2="365.04" y2="151.5" stroke="#a018b8" stroke-width="1"/>
<rect x="363.89" y="145.6" width="2.3" height="3.40" fill="#9c14b4"/>
<line x1="365.04" y1="146.40" x2="365.04" y2="148.20" stroke="#f6d4f6" stroke-width="0.95"/>
<line x1="367.71" y1="129.4" x2="367.71" y2="149.5" stroke="#c0a018" stroke-width="1"/>
<rect x="366.56" y="133.3" width="2.3" height="14.70" fill="#a88c10"/>
<line x1="367.71" y1="133.3" x2="367.71" y2="148.00" stroke="#ccac20" stroke-width="0.8"/>
<line x1="370.37" y1="123.0" x2="370.37" y2="154.7" stroke="#c0a018" stroke-width="1"/>
<rect x="369.22" y="132.0" width="2.3" height="1.30" fill="#a88c10"/>
<line x1="370.37" y1="132.0" x2="370.37" y2="133.30" stroke="#ccac20" stroke-width="0.8"/>
<line x1="373.04" y1="107.3" x2="373.04" y2="135.3" stroke="#c0a018" stroke-width="1"/>
<rect x="371.89" y="113.0" width="2.3" height="21.60" fill="#a88c10"/>
<line x1="373.04" y1="113.0" x2="373.04" y2="134.60" stroke="#ccac20" stroke-width="0.8"/>
<line x1="375.70" y1="100.8" x2="375.70" y2="119.0" stroke="#c0a018" stroke-width="1"/>
<rect x="374.55" y="103.4" width="2.3" height="11.60" fill="#a88c10"/>
<line x1="375.70" y1="103.4" x2="375.70" y2="115.00" stroke="#ccac20" stroke-width="0.8"/>
<line x1="378.37" y1="96.3" x2="378.37" y2="119.7" stroke="#a018b8" stroke-width="1"/>
<rect x="377.22" y="102.0" width="2.3" height="13.00" fill="#9c14b4"/>
<line x1="378.37" y1="102.80" x2="378.37" y2="114.20" stroke="#f6d4f6" stroke-width="0.95"/>
<line x1="381.03" y1="110.0" x2="381.03" y2="123.0" stroke="#c0a018" stroke-width="1"/>
<rect x="379.88" y="110.0" width="2.3" height="12.30" fill="#a88c10"/>
<line x1="381.03" y1="110.0" x2="381.03" y2="122.30" stroke="#ccac20" stroke-width="0.8"/>
<line x1="383.70" y1="112.0" x2="383.70" y2="128.0" stroke="#a018b8" stroke-width="1"/>
<rect x="382.55" y="115.0" width="2.3" height="7.30" fill="#9c14b4"/>
<line x1="383.70" y1="115.80" x2="383.70" y2="121.50" stroke="#f6d4f6" stroke-width="0.95"/>
<line x1="386.36" y1="113.8" x2="386.36" y2="125.5" stroke="#c0a018" stroke-width="1"/>
<rect x="385.21" y="117.0" width="2.3" height="6.00" fill="#a88c10"/>
<line x1="386.36" y1="117.0" x2="386.36" y2="123.00" stroke="#ccac20" stroke-width="0.8"/>
<line x1="389.03" y1="111.0" x2="389.03" y2="119.0" stroke="#c0a018" stroke-width="1"/>
<rect x="387.88" y="112.0" width="2.3" height="5.70" fill="#a88c10"/>
<line x1="389.03" y1="112.0" x2="389.03" y2="117.70" stroke="#ccac20" stroke-width="0.8"/>
<line x1="391.69" y1="105.4" x2="391.69" y2="115.8" stroke="#c0a018" stroke-width="1"/>
<rect x="390.54" y="108.0" width="2.3" height="5.80" fill="#a88c10"/>
<line x1="391.69" y1="108.0" x2="391.69" y2="113.80" stroke="#ccac20" stroke-width="0.8"/>
<line x1="394.36" y1="100.8" x2="394.36" y2="110.6" stroke="#c0a018" stroke-width="1"/>
<rect x="393.21" y="106.7" width="2.3" height="3.30" fill="#a88c10"/>
<line x1="394.36" y1="106.7" x2="394.36" y2="110.00" stroke="#ccac20" stroke-width="0.8"/>
<line x1="397.02" y1="100.8" x2="397.02" y2="109.3" stroke="#a018b8" stroke-width="1"/>
<rect x="395.87" y="106.7" width="2.3" height="1.90" fill="#9c14b4"/>
<line x1="399.69" y1="102.0" x2="399.69" y2="110.0" stroke="#c0a018" stroke-width="1"/>
<rect x="398.54" y="103.4" width="2.3" height="5.20" fill="#a88c10"/>
<line x1="399.69" y1="103.4" x2="399.69" y2="108.60" stroke="#ccac20" stroke-width="0.8"/>
<line x1="402.35" y1="100.8" x2="402.35" y2="108.6" stroke="#a018b8" stroke-width="1"/>
<rect x="401.20" y="104.0" width="2.3" height="3.30" fill="#9c14b4"/>
<line x1="402.35" y1="104.80" x2="402.35" y2="106.50" stroke="#f6d4f6" stroke-width="0.95"/>
<line x1="405.02" y1="98.0" x2="405.02" y2="110.0" stroke="#a018b8" stroke-width="1"/>
<rect x="403.87" y="108.0" width="2.3" height="1.00" fill="#9c14b4"/>
<line x1="407.68" y1="100.0" x2="407.68" y2="110.0" stroke="#c0a018" stroke-width="1"/>
<rect x="406.53" y="100.8" width="2.3" height="8.20" fill="#a88c10"/>
<line x1="407.68" y1="100.8" x2="407.68" y2="109.00" stroke="#ccac20" stroke-width="0.8"/>
<line x1="410.35" y1="93.7" x2="410.35" y2="103.4" stroke="#c0a018" stroke-width="1"/>
<rect x="409.20" y="95.6" width="2.3" height="6.40" fill="#a88c10"/>
<line x1="410.35" y1="95.6" x2="410.35" y2="102.00" stroke="#ccac20" stroke-width="0.8"/>
<line x1="413.01" y1="91.7" x2="413.01" y2="103.4" stroke="#a018b8" stroke-width="1"/>
<rect x="411.86" y="95.6" width="2.3" height="2.60" fill="#9c14b4"/>
<line x1="413.01" y1="96.40" x2="413.01" y2="97.40" stroke="#f6d4f6" stroke-width="0.95"/>
<line x1="415.68" y1="87.9" x2="415.68" y2="99.5" stroke="#c0a018" stroke-width="1"/>
<rect x="414.53" y="89.0" width="2.3" height="9.20" fill="#a88c10"/>
<line x1="415.68" y1="89.0" x2="415.68" y2="98.20" stroke="#ccac20" stroke-width="0.8"/>
<line x1="418.34" y1="80.7" x2="418.34" y2="95.6" stroke="#a018b8" stroke-width="1"/>
<rect x="417.19" y="89.0" width="2.3" height="6.00" fill="#9c14b4"/>
<line x1="418.34" y1="89.80" x2="418.34" y2="94.20" stroke="#f6d4f6" stroke-width="0.95"/>
<line x1="421.01" y1="67.7" x2="421.01" y2="95.6" stroke="#c0a018" stroke-width="1"/>
<rect x="419.86" y="68.4" width="2.3" height="26.60" fill="#a88c10"/>
<line x1="421.01" y1="68.4" x2="421.01" y2="95.00" stroke="#ccac20" stroke-width="0.8"/>
<line x1="423.67" y1="59.3" x2="423.67" y2="75.0" stroke="#c0a018" stroke-width="1"/>
<rect x="422.52" y="62.0" width="2.3" height="7.70" fill="#a88c10"/>
<line x1="423.67" y1="62.0" x2="423.67" y2="69.70" stroke="#ccac20" stroke-width="0.8"/>
<line x1="426.34" y1="49.0" x2="426.34" y2="63.8" stroke="#c0a018" stroke-width="1"/>
<rect x="425.19" y="54.0" width="2.3" height="8.00" fill="#a88c10"/>
<line x1="426.34" y1="54.0" x2="426.34" y2="62.00" stroke="#ccac20" stroke-width="0.8"/>
<line x1="429.00" y1="49.0" x2="429.00" y2="60.0" stroke="#a018b8" stroke-width="1"/>
<rect x="427.85" y="54.0" width="2.3" height="6.00" fill="#9c14b4"/>
<line x1="429.00" y1="54.80" x2="429.00" y2="59.20" stroke="#f6d4f6" stroke-width="0.95"/>
<line x1="431.67" y1="50.0" x2="431.67" y2="67.0" stroke="#a018b8" stroke-width="1"/>
<rect x="430.52" y="59.3" width="2.3" height="1.90" fill="#9c14b4"/>
<line x1="434.33" y1="56.7" x2="434.33" y2="64.5" stroke="#a018b8" stroke-width="1"/>
<rect x="433.18" y="61.2" width="2.3" height="2.00" fill="#9c14b4"/>
<line x1="437.00" y1="54.0" x2="437.00" y2="71.0" stroke="#a018b8" stroke-width="1"/>
<rect x="435.85" y="63.2" width="2.3" height="3.80" fill="#9c14b4"/>
<line x1="437.00" y1="64.00" x2="437.00" y2="66.20" stroke="#f6d4f6" stroke-width="0.95"/>
<line x1="439.66" y1="52.0" x2="439.66" y2="68.4" stroke="#c0a018" stroke-width="1"/>
<rect x="438.51" y="54.7" width="2.3" height="11.70" fill="#a88c10"/>
<line x1="439.66" y1="54.7" x2="439.66" y2="66.40" stroke="#ccac20" stroke-width="0.8"/>
<line x1="442.33" y1="51.5" x2="442.33" y2="62.0" stroke="#a018b8" stroke-width="1"/>
<rect x="441.18" y="56.0" width="2.3" height="4.60" fill="#9c14b4"/>
<line x1="442.33" y1="56.80" x2="442.33" y2="59.80" stroke="#f6d4f6" stroke-width="0.95"/>
<line x1="444.99" y1="48.3" x2="444.99" y2="60.6" stroke="#c0a018" stroke-width="1"/>
<rect x="443.84" y="49.6" width="2.3" height="9.80" fill="#a88c10"/>
<line x1="444.99" y1="49.6" x2="444.99" y2="59.40" stroke="#ccac20" stroke-width="0.8"/>
<line x1="447.66" y1="50.3" x2="447.66" y2="60.0" stroke="#c0a018" stroke-width="1"/>
<rect x="446.51" y="52.2" width="2.3" height="3.80" fill="#a88c10"/>
<line x1="447.66" y1="52.2" x2="447.66" y2="56.00" stroke="#ccac20" stroke-width="0.8"/>
<line x1="450.32" y1="42.5" x2="450.32" y2="59.4" stroke="#c0a018" stroke-width="1"/>
<rect x="449.17" y="44.4" width="2.3" height="10.40" fill="#a88c10"/>
<line x1="450.32" y1="44.4" x2="450.32" y2="54.80" stroke="#ccac20" stroke-width="0.8"/>
<line x1="452.99" y1="31.4" x2="452.99" y2="47.7" stroke="#c0a018" stroke-width="1"/>
<rect x="451.84" y="33.4" width="2.3" height="13.00" fill="#a88c10"/>
<line x1="452.99" y1="33.4" x2="452.99" y2="46.40" stroke="#ccac20" stroke-width="0.8"/>
<line x1="455.65" y1="32.0" x2="455.65" y2="40.5" stroke="#a018b8" stroke-width="1"/>
<rect x="454.50" y="33.4" width="2.3" height="1.90" fill="#9c14b4"/>
<line x1="458.32" y1="34.7" x2="458.32" y2="58.0" stroke="#c0a018" stroke-width="1"/>
<rect x="457.17" y="36.0" width="2.3" height="4.50" fill="#a88c10"/>
<line x1="458.32" y1="36.0" x2="458.32" y2="40.50" stroke="#ccac20" stroke-width="0.8"/>
<line x1="460.98" y1="34.0" x2="460.98" y2="53.5" stroke="#a018b8" stroke-width="1"/>
<rect x="459.83" y="36.0" width="2.3" height="16.20" fill="#9c14b4"/>
<line x1="460.98" y1="36.80" x2="460.98" y2="51.40" stroke="#f6d4f6" stroke-width="0.95"/>
<line x1="463.65" y1="41.0" x2="463.65" y2="54.0" stroke="#c0a018" stroke-width="1"/>
<rect x="462.50" y="47.0" width="2.3" height="5.20" fill="#a88c10"/>
<line x1="463.65" y1="47.0" x2="463.65" y2="52.20" stroke="#ccac20" stroke-width="0.8"/>
<line x1="466.31" y1="41.8" x2="466.31" y2="49.0" stroke="#a018b8" stroke-width="1"/>
<rect x="465.16" y="43.8" width="2.3" height="3.90" fill="#9c14b4"/>
<line x1="466.31" y1="44.60" x2="466.31" y2="46.90" stroke="#f6d4f6" stroke-width="0.95"/>
<line x1="468.98" y1="35.3" x2="468.98" y2="49.0" stroke="#c0a018" stroke-width="1"/>
<rect x="467.83" y="37.3" width="2.3" height="9.70" fill="#a88c10"/>
<line x1="468.98" y1="37.3" x2="468.98" y2="47.00" stroke="#ccac20" stroke-width="0.8"/>
<line x1="471.64" y1="30.8" x2="471.64" y2="44.4" stroke="#c0a018" stroke-width="1"/>
<rect x="470.49" y="36.0" width="2.3" height="5.80" fill="#a88c10"/>
<line x1="471.64" y1="36.0" x2="471.64" y2="41.80" stroke="#ccac20" stroke-width="0.8"/>
<line x1="474.31" y1="24.3" x2="474.31" y2="36.6" stroke="#c0a018" stroke-width="1"/>
<rect x="473.16" y="25.6" width="2.3" height="10.40" fill="#a88c10"/>
<line x1="474.31" y1="25.6" x2="474.31" y2="36.00" stroke="#ccac20" stroke-width="0.8"/>
<line x1="476.97" y1="25.0" x2="476.97" y2="42.5" stroke="#a018b8" stroke-width="1"/>
<rect x="475.82" y="27.0" width="2.3" height="14.00" fill="#9c14b4"/>
<line x1="476.97" y1="27.80" x2="476.97" y2="40.20" stroke="#f6d4f6" stroke-width="0.95"/>
<line x1="479.64" y1="24.3" x2="479.64" y2="40.5" stroke="#c0a018" stroke-width="1"/>
<rect x="478.49" y="36.0" width="2.3" height="4.00" fill="#a88c10"/>
<line x1="479.64" y1="36.0" x2="479.64" y2="40.00" stroke="#ccac20" stroke-width="0.8"/>
<line x1="482.30" y1="25.0" x2="482.30" y2="36.6" stroke="#c0a018" stroke-width="1"/>
<rect x="481.15" y="27.0" width="2.3" height="9.00" fill="#a88c10"/>
<line x1="482.30" y1="27.0" x2="482.30" y2="36.00" stroke="#ccac20" stroke-width="0.8"/>
<line x1="484.97" y1="16.5" x2="484.97" y2="31.4" stroke="#c0a018" stroke-width="1"/>
<rect x="483.82" y="21.7" width="2.3" height="7.80" fill="#a88c10"/>
<line x1="484.97" y1="21.7" x2="484.97" y2="29.50" stroke="#ccac20" stroke-width="0.8"/>
<line x1="487.63" y1="17.8" x2="487.63" y2="34.0" stroke="#a018b8" stroke-width="1"/>
<rect x="486.48" y="23.0" width="2.3" height="7.80" fill="#9c14b4"/>
<line x1="487.63" y1="23.80" x2="487.63" y2="30.00" stroke="#f6d4f6" stroke-width="0.95"/>
<line x1="490.30" y1="29.0" x2="490.30" y2="46.4" stroke="#a018b8" stroke-width="1"/>
<rect x="489.15" y="31.5" width="2.3" height="9.10" fill="#9c14b4"/>
<line x1="490.30" y1="32.30" x2="490.30" y2="39.80" stroke="#f6d4f6" stroke-width="0.95"/>
<line x1="492.96" y1="39.3" x2="492.96" y2="58.0" stroke="#a018b8" stroke-width="1"/>
<rect x="491.81" y="42.5" width="2.3" height="11.70" fill="#9c14b4"/>
<line x1="492.96" y1="43.30" x2="492.96" y2="53.40" stroke="#f6d4f6" stroke-width="0.95"/>
<line x1="495.63" y1="42.0" x2="495.63" y2="56.8" stroke="#c0a018" stroke-width="1"/>
<rect x="494.48" y="43.0" width="2.3" height="11.90" fill="#a88c10"/>
<line x1="495.63" y1="43.0" x2="495.63" y2="54.90" stroke="#ccac20" stroke-width="0.8"/>
<line x1="498.29" y1="41.0" x2="498.29" y2="56.0" stroke="#a018b8" stroke-width="1"/>
<rect x="497.14" y="43.0" width="2.3" height="9.00" fill="#9c14b4"/>
<line x1="498.29" y1="43.80" x2="498.29" y2="51.20" stroke="#f6d4f6" stroke-width="0.95"/>
<line x1="500.96" y1="49.0" x2="500.96" y2="61.4" stroke="#a018b8" stroke-width="1"/>
<rect x="499.81" y="49.7" width="2.3" height="3.90" fill="#9c14b4"/>
<line x1="500.96" y1="50.50" x2="500.96" y2="52.80" stroke="#f6d4f6" stroke-width="0.95"/>
<line x1="503.62" y1="51.0" x2="503.62" y2="69.0" stroke="#a018b8" stroke-width="1"/>
<rect x="502.47" y="53.6" width="2.3" height="13.60" fill="#9c14b4"/>
<line x1="503.62" y1="54.40" x2="503.62" y2="66.40" stroke="#f6d4f6" stroke-width="0.95"/>
<line x1="506.29" y1="65.2" x2="506.29" y2="71.7" stroke="#a018b8" stroke-width="1"/>
<rect x="505.14" y="66.5" width="2.3" height="3.30" fill="#9c14b4"/>
<line x1="506.29" y1="67.30" x2="506.29" y2="69.00" stroke="#f6d4f6" stroke-width="0.95"/>
<line x1="508.95" y1="54.2" x2="508.95" y2="69.0" stroke="#c0a018" stroke-width="1"/>
<rect x="507.80" y="58.0" width="2.3" height="9.80" fill="#a88c10"/>
<line x1="508.95" y1="58.0" x2="508.95" y2="67.80" stroke="#ccac20" stroke-width="0.8"/>
<line x1="511.62" y1="52.3" x2="511.62" y2="66.5" stroke="#a018b8" stroke-width="1"/>
<rect x="510.47" y="58.0" width="2.3" height="4.00" fill="#9c14b4"/>
<line x1="511.62" y1="58.80" x2="511.62" y2="61.20" stroke="#f6d4f6" stroke-width="0.95"/>
<line x1="514.28" y1="49.0" x2="514.28" y2="63.3" stroke="#c0a018" stroke-width="1"/>
<rect x="513.13" y="50.3" width="2.3" height="11.70" fill="#a88c10"/>
<line x1="514.28" y1="50.3" x2="514.28" y2="62.00" stroke="#ccac20" stroke-width="0.8"/>
<line x1="516.95" y1="46.4" x2="516.95" y2="53.6" stroke="#c0a018" stroke-width="1"/>
<rect x="515.80" y="47.0" width="2.3" height="5.30" fill="#a88c10"/>
<line x1="516.95" y1="47.0" x2="516.95" y2="52.30" stroke="#ccac20" stroke-width="0.8"/>
<line x1="519.61" y1="48.4" x2="519.61" y2="60.0" stroke="#a018b8" stroke-width="1"/>
<rect x="518.46" y="51.0" width="2.3" height="5.20" fill="#9c14b4"/>
<line x1="519.61" y1="51.80" x2="519.61" y2="55.40" stroke="#f6d4f6" stroke-width="0.95"/>
<line x1="522.27" y1="49.0" x2="522.27" y2="61.4" stroke="#c0a018" stroke-width="1"/>
<rect x="521.12" y="52.3" width="2.3" height="3.90" fill="#a88c10"/>
<line x1="522.27" y1="52.3" x2="522.27" y2="56.20" stroke="#ccac20" stroke-width="0.8"/>
<line x1="524.94" y1="50.3" x2="524.94" y2="71.0" stroke="#a018b8" stroke-width="1"/>
<rect x="523.79" y="51.6" width="2.3" height="9.80" fill="#9c14b4"/>
<line x1="524.94" y1="52.40" x2="524.94" y2="60.60" stroke="#f6d4f6" stroke-width="0.95"/>
<line x1="527.61" y1="55.5" x2="527.61" y2="67.2" stroke="#c0a018" stroke-width="1"/>
<rect x="526.46" y="59.4" width="2.3" height="2.00" fill="#a88c10"/>
<line x1="527.61" y1="59.4" x2="527.61" y2="61.40" stroke="#ccac20" stroke-width="0.8"/>
<line x1="530.27" y1="53.0" x2="530.27" y2="65.2" stroke="#c0a018" stroke-width="1"/>
<rect x="529.12" y="56.8" width="2.3" height="3.90" fill="#a88c10"/>
<line x1="530.27" y1="56.8" x2="530.27" y2="60.70" stroke="#ccac20" stroke-width="0.8"/>
<line x1="532.94" y1="56.0" x2="532.94" y2="71.6" stroke="#a018b8" stroke-width="1"/>
<rect x="531.79" y="57.3" width="2.3" height="13.70" fill="#9c14b4"/>
<line x1="532.94" y1="58.10" x2="532.94" y2="70.20" stroke="#f6d4f6" stroke-width="0.95"/>
<line x1="535.60" y1="65.0" x2="535.60" y2="80.0" stroke="#a018b8" stroke-width="1"/>
<rect x="534.45" y="71.0" width="2.3" height="2.50" fill="#9c14b4"/>
<line x1="535.60" y1="71.80" x2="535.60" y2="72.70" stroke="#f6d4f6" stroke-width="0.95"/>
<line x1="538.26" y1="71.6" x2="538.26" y2="81.3" stroke="#a018b8" stroke-width="1"/>
<rect x="537.12" y="73.0" width="2.3" height="2.50" fill="#9c14b4"/>
<line x1="538.26" y1="73.80" x2="538.26" y2="74.70" stroke="#f6d4f6" stroke-width="0.95"/>
<line x1="540.93" y1="73.5" x2="540.93" y2="89.7" stroke="#a018b8" stroke-width="1"/>
<rect x="539.78" y="74.8" width="2.3" height="13.60" fill="#9c14b4"/>
<line x1="540.93" y1="75.60" x2="540.93" y2="87.60" stroke="#f6d4f6" stroke-width="0.95"/>
<line x1="543.60" y1="72.0" x2="543.60" y2="91.0" stroke="#c0a018" stroke-width="1"/>
<rect x="542.45" y="72.0" width="2.3" height="17.00" fill="#a88c10"/>
<line x1="543.60" y1="72.0" x2="543.60" y2="89.00" stroke="#ccac20" stroke-width="0.8"/>
<line x1="546.26" y1="69.6" x2="546.26" y2="78.7" stroke="#c0a018" stroke-width="1"/>
<rect x="545.11" y="71.6" width="2.3" height="5.80" fill="#a88c10"/>
<line x1="546.26" y1="71.6" x2="546.26" y2="77.40" stroke="#ccac20" stroke-width="0.8"/>
<line x1="548.93" y1="58.6" x2="548.93" y2="74.0" stroke="#c0a018" stroke-width="1"/>
<rect x="547.78" y="60.0" width="2.3" height="13.50" fill="#a88c10"/>
<line x1="548.93" y1="60.0" x2="548.93" y2="73.50" stroke="#ccac20" stroke-width="0.8"/>
<line x1="551.59" y1="54.7" x2="551.59" y2="62.5" stroke="#c0a018" stroke-width="1"/>
<rect x="550.44" y="58.0" width="2.3" height="3.80" fill="#a88c10"/>
<line x1="551.59" y1="58.0" x2="551.59" y2="61.80" stroke="#ccac20" stroke-width="0.8"/>
<line x1="554.25" y1="54.0" x2="554.25" y2="61.0" stroke="#c0a018" stroke-width="1"/>
<rect x="553.11" y="57.3" width="2.3" height="3.70" fill="#a88c10"/>
<line x1="554.25" y1="57.3" x2="554.25" y2="61.00" stroke="#ccac20" stroke-width="0.8"/>
<line x1="556.92" y1="56.6" x2="556.92" y2="67.7" stroke="#a018b8" stroke-width="1"/>
<rect x="555.77" y="57.3" width="2.3" height="2.70" fill="#9c14b4"/>
<line x1="556.92" y1="58.10" x2="556.92" y2="59.20" stroke="#f6d4f6" stroke-width="0.95"/>
<line x1="559.59" y1="54.7" x2="559.59" y2="61.0" stroke="#c0a018" stroke-width="1"/>
<rect x="558.44" y="56.6" width="2.3" height="2.40" fill="#a88c10"/>
<line x1="559.59" y1="56.6" x2="559.59" y2="59.00" stroke="#ccac20" stroke-width="0.8"/>
<line x1="562.25" y1="50.0" x2="562.25" y2="64.4" stroke="#a018b8" stroke-width="1"/>
<rect x="561.10" y="58.0" width="2.3" height="4.50" fill="#9c14b4"/>
<line x1="562.25" y1="58.80" x2="562.25" y2="61.70" stroke="#f6d4f6" stroke-width="0.95"/>
<line x1="564.92" y1="61.8" x2="564.92" y2="78.0" stroke="#a018b8" stroke-width="1"/>
<rect x="563.77" y="62.5" width="2.3" height="12.30" fill="#9c14b4"/>
<line x1="564.92" y1="63.30" x2="564.92" y2="74.00" stroke="#f6d4f6" stroke-width="0.95"/>
<line x1="567.58" y1="64.4" x2="567.58" y2="76.8" stroke="#c0a018" stroke-width="1"/>
<rect x="566.43" y="65.0" width="2.3" height="10.50" fill="#a88c10"/>
<line x1="567.58" y1="65.0" x2="567.58" y2="75.50" stroke="#ccac20" stroke-width="0.8"/>
<line x1="570.25" y1="54.7" x2="570.25" y2="66.4" stroke="#c0a018" stroke-width="1"/>
<rect x="569.10" y="60.0" width="2.3" height="5.00" fill="#a88c10"/>
<line x1="570.25" y1="60.0" x2="570.25" y2="65.00" stroke="#ccac20" stroke-width="0.8"/>
<line x1="572.91" y1="50.0" x2="572.91" y2="65.7" stroke="#c0a018" stroke-width="1"/>
<rect x="571.76" y="52.7" width="2.3" height="12.30" fill="#a88c10"/>
<line x1="572.91" y1="52.7" x2="572.91" y2="65.00" stroke="#ccac20" stroke-width="0.8"/>
<line x1="575.58" y1="48.0" x2="575.58" y2="57.3" stroke="#a018b8" stroke-width="1"/>
<rect x="574.43" y="52.0" width="2.3" height="2.70" fill="#9c14b4"/>
<line x1="575.58" y1="52.80" x2="575.58" y2="53.90" stroke="#f6d4f6" stroke-width="0.95"/>
<line x1="578.24" y1="49.5" x2="578.24" y2="62.0" stroke="#c0a018" stroke-width="1"/>
<rect x="577.09" y="50.8" width="2.3" height="3.90" fill="#a88c10"/>
<line x1="578.24" y1="50.8" x2="578.24" y2="54.70" stroke="#ccac20" stroke-width="0.8"/>
<line x1="580.91" y1="37.0" x2="580.91" y2="52.7" stroke="#c0a018" stroke-width="1"/>
<rect x="579.76" y="48.8" width="2.3" height="3.20" fill="#a88c10"/>
<line x1="580.91" y1="48.8" x2="580.91" y2="52.00" stroke="#ccac20" stroke-width="0.8"/>
<line x1="583.57" y1="48.0" x2="583.57" y2="70.0" stroke="#a018b8" stroke-width="1"/>
<rect x="582.42" y="50.0" width="2.3" height="18.30" fill="#9c14b4"/>
<line x1="583.57" y1="50.80" x2="583.57" y2="67.50" stroke="#f6d4f6" stroke-width="0.95"/>
<line x1="586.24" y1="63.0" x2="586.24" y2="76.0" stroke="#a018b8" stroke-width="1"/>
<rect x="585.09" y="69.0" width="2.3" height="3.20" fill="#9c14b4"/>
<line x1="586.24" y1="69.80" x2="586.24" y2="71.40" stroke="#f6d4f6" stroke-width="0.95"/>
<line x1="588.90" y1="64.4" x2="588.90" y2="83.2" stroke="#c0a018" stroke-width="1"/>
<rect x="587.75" y="65.0" width="2.3" height="7.20" fill="#a88c10"/>
<line x1="588.90" y1="65.0" x2="588.90" y2="72.20" stroke="#ccac20" stroke-width="0.8"/>
<line x1="591.57" y1="60.5" x2="591.57" y2="73.5" stroke="#a018b8" stroke-width="1"/>
<rect x="590.42" y="65.0" width="2.3" height="5.30" fill="#9c14b4"/>
<line x1="591.57" y1="65.80" x2="591.57" y2="69.50" stroke="#f6d4f6" stroke-width="0.95"/>
<line x1="594.23" y1="69.6" x2="594.23" y2="89.0" stroke="#a018b8" stroke-width="1"/>
<rect x="593.08" y="70.3" width="2.3" height="16.70" fill="#9c14b4"/>
<line x1="594.23" y1="71.10" x2="594.23" y2="86.20" stroke="#f6d4f6" stroke-width="0.95"/>
<line x1="596.89" y1="84.7" x2="596.89" y2="101.0" stroke="#a018b8" stroke-width="1"/>
<rect x="595.75" y="86.7" width="2.3" height="11.00" fill="#9c14b4"/>
<line x1="596.89" y1="87.50" x2="596.89" y2="96.90" stroke="#f6d4f6" stroke-width="0.95"/>
<line x1="599.56" y1="94.5" x2="599.56" y2="110.7" stroke="#a018b8" stroke-width="1"/>
<rect x="598.41" y="96.4" width="2.3" height="13.60" fill="#9c14b4"/>
<line x1="599.56" y1="97.20" x2="599.56" y2="109.20" stroke="#f6d4f6" stroke-width="0.95"/>
<line x1="602.23" y1="96.4" x2="602.23" y2="112.0" stroke="#c0a018" stroke-width="1"/>
<rect x="601.08" y="98.4" width="2.3" height="11.60" fill="#a88c10"/>
<line x1="602.23" y1="98.4" x2="602.23" y2="110.00" stroke="#ccac20" stroke-width="0.8"/>
<line x1="604.89" y1="93.8" x2="604.89" y2="106.0" stroke="#c0a018" stroke-width="1"/>
<rect x="603.74" y="94.5" width="2.3" height="11.00" fill="#a88c10"/>
<line x1="604.89" y1="94.5" x2="604.89" y2="105.50" stroke="#ccac20" stroke-width="0.8"/>
<line x1="607.56" y1="82.8" x2="607.56" y2="97.0" stroke="#c0a018" stroke-width="1"/>
<rect x="606.41" y="84.0" width="2.3" height="11.80" fill="#a88c10"/>
<line x1="607.56" y1="84.0" x2="607.56" y2="95.80" stroke="#ccac20" stroke-width="0.8"/>
<line x1="610.22" y1="83.4" x2="610.22" y2="98.4" stroke="#a018b8" stroke-width="1"/>
<rect x="609.07" y="84.0" width="2.3" height="6.00" fill="#9c14b4"/>
<line x1="610.22" y1="84.80" x2="610.22" y2="89.20" stroke="#f6d4f6" stroke-width="0.95"/>
<line x1="612.88" y1="87.3" x2="612.88" y2="97.7" stroke="#a018b8" stroke-width="1"/>
<rect x="611.74" y="90.0" width="2.3" height="5.00" fill="#9c14b4"/>
<line x1="612.88" y1="90.80" x2="612.88" y2="94.20" stroke="#f6d4f6" stroke-width="0.95"/>
<line x1="615.55" y1="90.0" x2="615.55" y2="103.0" stroke="#a018b8" stroke-width="1"/>
<rect x="614.40" y="95.0" width="2.3" height="4.70" fill="#9c14b4"/>
<line x1="615.55" y1="95.80" x2="615.55" y2="98.90" stroke="#f6d4f6" stroke-width="0.95"/>
<line x1="618.22" y1="83.4" x2="618.22" y2="102.3" stroke="#c0a018" stroke-width="1"/>
<rect x="617.07" y="84.7" width="2.3" height="16.30" fill="#a88c10"/>
<line x1="618.22" y1="84.7" x2="618.22" y2="101.00" stroke="#ccac20" stroke-width="0.8"/>
<line x1="620.88" y1="83.4" x2="620.88" y2="99.0" stroke="#a018b8" stroke-width="1"/>
<rect x="619.73" y="84.0" width="2.3" height="13.70" fill="#9c14b4"/>
<line x1="620.88" y1="84.80" x2="620.88" y2="96.90" stroke="#f6d4f6" stroke-width="0.95"/>
<line x1="623.55" y1="92.5" x2="623.55" y2="105.5" stroke="#a018b8" stroke-width="1"/>
<rect x="622.40" y="97.7" width="2.3" height="1.30" fill="#9c14b4"/>
<line x1="626.21" y1="91.0" x2="626.21" y2="105.5" stroke="#c0a018" stroke-width="1"/>
<rect x="625.06" y="93.0" width="2.3" height="11.00" fill="#a88c10"/>
<line x1="626.21" y1="93.0" x2="626.21" y2="104.00" stroke="#ccac20" stroke-width="0.8"/>
<line x1="628.88" y1="92.0" x2="628.88" y2="110.0" stroke="#a018b8" stroke-width="1"/>
<rect x="627.73" y="93.0" width="2.3" height="16.40" fill="#9c14b4"/>
<line x1="628.88" y1="93.80" x2="628.88" y2="108.60" stroke="#f6d4f6" stroke-width="0.95"/>
<line x1="631.54" y1="108.8" x2="631.54" y2="116.6" stroke="#a018b8" stroke-width="1"/>
<rect x="630.39" y="109.4" width="2.3" height="6.60" fill="#9c14b4"/>
<line x1="631.54" y1="110.20" x2="631.54" y2="115.20" stroke="#f6d4f6" stroke-width="0.95"/>
<line x1="634.21" y1="112.7" x2="634.21" y2="125.0" stroke="#a018b8" stroke-width="1"/>
<rect x="633.06" y="116.0" width="2.3" height="7.70" fill="#9c14b4"/>
<line x1="634.21" y1="116.80" x2="634.21" y2="122.90" stroke="#f6d4f6" stroke-width="0.95"/>
<line x1="636.87" y1="116.6" x2="636.87" y2="125.0" stroke="#c0a018" stroke-width="1"/>
<rect x="635.72" y="117.9" width="2.3" height="6.50" fill="#a88c10"/>
<line x1="636.87" y1="117.9" x2="636.87" y2="124.40" stroke="#ccac20" stroke-width="0.8"/>
<line x1="639.54" y1="119.0" x2="639.54" y2="126.3" stroke="#a018b8" stroke-width="1"/>
<rect x="638.39" y="119.8" width="2.3" height="5.20" fill="#9c14b4"/>
<line x1="639.54" y1="120.60" x2="639.54" y2="124.20" stroke="#f6d4f6" stroke-width="0.95"/>
<line x1="642.20" y1="122.4" x2="642.20" y2="134.0" stroke="#a018b8" stroke-width="1"/>
<rect x="641.05" y="123.7" width="2.3" height="9.70" fill="#9c14b4"/>
<line x1="642.20" y1="124.50" x2="642.20" y2="132.60" stroke="#f6d4f6" stroke-width="0.95"/>
<line x1="644.87" y1="125.0" x2="644.87" y2="136.0" stroke="#c0a018" stroke-width="1"/>
<rect x="643.72" y="125.6" width="2.3" height="9.80" fill="#a88c10"/>
<line x1="644.87" y1="125.6" x2="644.87" y2="135.40" stroke="#ccac20" stroke-width="0.8"/>
<line x1="647.53" y1="121.0" x2="647.53" y2="134.7" stroke="#c0a018" stroke-width="1"/>
<rect x="646.38" y="122.4" width="2.3" height="8.40" fill="#a88c10"/>
<line x1="647.53" y1="122.4" x2="647.53" y2="130.80" stroke="#ccac20" stroke-width="0.8"/>
<line x1="650.20" y1="120.5" x2="650.20" y2="127.6" stroke="#a018b8" stroke-width="1"/>
<rect x="649.05" y="123.0" width="2.3" height="2.00" fill="#9c14b4"/>
<line x1="652.86" y1="114.6" x2="652.86" y2="129.5" stroke="#c0a018" stroke-width="1"/>
<rect x="651.71" y="115.3" width="2.3" height="11.70" fill="#a88c10"/>
<line x1="652.86" y1="115.3" x2="652.86" y2="127.00" stroke="#ccac20" stroke-width="0.8"/>
<line x1="655.52" y1="104.0" x2="655.52" y2="119.0" stroke="#c0a018" stroke-width="1"/>
<rect x="654.38" y="104.9" width="2.3" height="10.40" fill="#a88c10"/>
<line x1="655.52" y1="104.9" x2="655.52" y2="115.30" stroke="#ccac20" stroke-width="0.8"/>
<line x1="658.19" y1="97.0" x2="658.19" y2="106.8" stroke="#a018b8" stroke-width="1"/>
<rect x="657.04" y="104.9" width="2.3" height="1.30" fill="#9c14b4"/>
<line x1="660.86" y1="94.5" x2="660.86" y2="106.8" stroke="#c0a018" stroke-width="1"/>
<rect x="659.71" y="96.4" width="2.3" height="9.80" fill="#a88c10"/>
<line x1="660.86" y1="96.4" x2="660.86" y2="106.20" stroke="#ccac20" stroke-width="0.8"/>
<line x1="663.52" y1="96.4" x2="663.52" y2="106.8" stroke="#a018b8" stroke-width="1"/>
<rect x="662.37" y="97.7" width="2.3" height="1.30" fill="#9c14b4"/>
<line x1="666.19" y1="95.8" x2="666.19" y2="105.5" stroke="#c0a018" stroke-width="1"/>
<rect x="665.04" y="96.4" width="2.3" height="8.50" fill="#a88c10"/>
<line x1="666.19" y1="96.4" x2="666.19" y2="104.90" stroke="#ccac20" stroke-width="0.8"/>
<line x1="668.85" y1="89.3" x2="668.85" y2="104.9" stroke="#c0a018" stroke-width="1"/>
<rect x="667.70" y="90.6" width="2.3" height="8.40" fill="#a88c10"/>
<line x1="668.85" y1="90.6" x2="668.85" y2="99.00" stroke="#ccac20" stroke-width="0.8"/>
<line x1="671.51" y1="82.8" x2="671.51" y2="92.0" stroke="#c0a018" stroke-width="1"/>
<rect x="670.37" y="84.0" width="2.3" height="7.20" fill="#a88c10"/>
<line x1="671.51" y1="84.0" x2="671.51" y2="91.20" stroke="#ccac20" stroke-width="0.8"/>
<line x1="674.18" y1="82.0" x2="674.18" y2="89.3" stroke="#a018b8" stroke-width="1"/>
<rect x="673.03" y="85.4" width="2.3" height="2.60" fill="#9c14b4"/>
<line x1="674.18" y1="86.20" x2="674.18" y2="87.20" stroke="#f6d4f6" stroke-width="0.95"/>
<line x1="676.85" y1="82.0" x2="676.85" y2="92.5" stroke="#c0a018" stroke-width="1"/>
<rect x="675.70" y="82.8" width="2.3" height="8.40" fill="#a88c10"/>
<line x1="676.85" y1="82.8" x2="676.85" y2="91.20" stroke="#ccac20" stroke-width="0.8"/>
<line x1="679.51" y1="72.0" x2="679.51" y2="93.0" stroke="#c0a018" stroke-width="1"/>
<rect x="678.36" y="74.8" width="2.3" height="16.20" fill="#a88c10"/>
<line x1="679.51" y1="74.8" x2="679.51" y2="91.00" stroke="#ccac20" stroke-width="0.8"/>
<line x1="682.18" y1="66.4" x2="682.18" y2="77.4" stroke="#a018b8" stroke-width="1"/>
<rect x="681.03" y="67.0" width="2.3" height="8.50" fill="#9c14b4"/>
<line x1="682.18" y1="67.80" x2="682.18" y2="74.70" stroke="#f6d4f6" stroke-width="0.95"/>
<line x1="684.84" y1="72.9" x2="684.84" y2="82.0" stroke="#c0a018" stroke-width="1"/>
<rect x="683.69" y="74.0" width="2.3" height="7.30" fill="#a88c10"/>
<line x1="684.84" y1="74.0" x2="684.84" y2="81.30" stroke="#ccac20" stroke-width="0.8"/>
<line x1="687.50" y1="68.3" x2="687.50" y2="83.2" stroke="#a018b8" stroke-width="1"/>
<rect x="686.36" y="74.8" width="2.3" height="4.60" fill="#9c14b4"/>
<line x1="687.50" y1="75.60" x2="687.50" y2="78.60" stroke="#f6d4f6" stroke-width="0.95"/>
<line x1="690.17" y1="62.5" x2="690.17" y2="80.0" stroke="#c0a018" stroke-width="1"/>
<rect x="689.02" y="63.0" width="2.3" height="16.40" fill="#a88c10"/>
<line x1="690.17" y1="63.0" x2="690.17" y2="79.40" stroke="#ccac20" stroke-width="0.8"/>
<line x1="692.84" y1="59.9" x2="692.84" y2="70.3" stroke="#a018b8" stroke-width="1"/>
<rect x="691.69" y="64.4" width="2.3" height="2.60" fill="#9c14b4"/>
<line x1="692.84" y1="65.20" x2="692.84" y2="66.20" stroke="#f6d4f6" stroke-width="0.95"/>
<line x1="695.50" y1="64.4" x2="695.50" y2="71.6" stroke="#c0a018" stroke-width="1"/>
<rect x="694.35" y="64.4" width="2.3" height="2.60" fill="#a88c10"/>
<line x1="695.50" y1="64.4" x2="695.50" y2="67.00" stroke="#ccac20" stroke-width="0.8"/>
<line x1="698.17" y1="56.0" x2="698.17" y2="72.2" stroke="#c0a018" stroke-width="1"/>
<rect x="697.02" y="57.3" width="2.3" height="7.10" fill="#a88c10"/>
<line x1="698.17" y1="57.3" x2="698.17" y2="64.40" stroke="#ccac20" stroke-width="0.8"/>
<line x1="700.83" y1="54.0" x2="700.83" y2="63.0" stroke="#a018b8" stroke-width="1"/>
<rect x="699.68" y="58.0" width="2.3" height="2.00" fill="#9c14b4"/>
<line x1="703.50" y1="58.0" x2="703.50" y2="78.0" stroke="#a018b8" stroke-width="1"/>
<rect x="702.35" y="60.5" width="2.3" height="16.90" fill="#9c14b4"/>
<line x1="703.50" y1="61.30" x2="703.50" y2="76.60" stroke="#f6d4f6" stroke-width="0.95"/>
<line x1="706.16" y1="67.0" x2="706.16" y2="80.0" stroke="#c0a018" stroke-width="1"/>
<rect x="705.01" y="69.6" width="2.3" height="9.10" fill="#a88c10"/>
<line x1="706.16" y1="69.6" x2="706.16" y2="78.70" stroke="#ccac20" stroke-width="0.8"/>
<line x1="708.83" y1="69.6" x2="708.83" y2="81.3" stroke="#a018b8" stroke-width="1"/>
<rect x="707.68" y="70.3" width="2.3" height="9.70" fill="#9c14b4"/>
<line x1="708.83" y1="71.10" x2="708.83" y2="79.20" stroke="#f6d4f6" stroke-width="0.95"/>
<line x1="711.49" y1="76.8" x2="711.49" y2="84.5" stroke="#a018b8" stroke-width="1"/>
<rect x="710.34" y="78.7" width="2.3" height="1.90" fill="#9c14b4"/>
<line x1="714.16" y1="67.7" x2="714.16" y2="83.2" stroke="#c0a018" stroke-width="1"/>
<rect x="713.01" y="69.0" width="2.3" height="12.30" fill="#a88c10"/>
<line x1="714.16" y1="69.0" x2="714.16" y2="81.30" stroke="#ccac20" stroke-width="0.8"/>
<line x1="716.82" y1="49.5" x2="716.82" y2="72.2" stroke="#c0a018" stroke-width="1"/>
<rect x="715.67" y="50.8" width="2.3" height="19.50" fill="#a88c10"/>
<line x1="716.82" y1="50.8" x2="716.82" y2="70.30" stroke="#ccac20" stroke-width="0.8"/>
<line x1="719.49" y1="48.0" x2="719.49" y2="58.6" stroke="#a018b8" stroke-width="1"/>
<rect x="718.34" y="51.4" width="2.3" height="6.60" fill="#9c14b4"/>
<line x1="719.49" y1="52.20" x2="719.49" y2="57.20" stroke="#f6d4f6" stroke-width="0.95"/>
<line x1="722.15" y1="47.5" x2="722.15" y2="59.2" stroke="#c0a018" stroke-width="1"/>
<rect x="721.00" y="48.0" width="2.3" height="10.00" fill="#a88c10"/>
<line x1="722.15" y1="48.0" x2="722.15" y2="58.00" stroke="#ccac20" stroke-width="0.8"/>
<line x1="724.82" y1="53.4" x2="724.82" y2="69.0" stroke="#a018b8" stroke-width="1"/>
<rect x="723.67" y="54.0" width="2.3" height="14.30" fill="#9c14b4"/>
<line x1="724.82" y1="54.80" x2="724.82" y2="67.50" stroke="#f6d4f6" stroke-width="0.95"/>
<line x1="727.48" y1="62.0" x2="727.48" y2="72.6" stroke="#c0a018" stroke-width="1"/>
<rect x="726.33" y="62.7" width="2.3" height="6.60" fill="#a88c10"/>
<line x1="727.48" y1="62.7" x2="727.48" y2="69.30" stroke="#ccac20" stroke-width="0.8"/>
<line x1="730.14" y1="54.0" x2="730.14" y2="68.2" stroke="#c0a018" stroke-width="1"/>
<rect x="729.00" y="54.5" width="2.3" height="13.20" fill="#a88c10"/>
<line x1="730.14" y1="54.5" x2="730.14" y2="67.70" stroke="#ccac20" stroke-width="0.8"/>
<line x1="732.81" y1="50.6" x2="732.81" y2="58.9" stroke="#c0a018" stroke-width="1"/>
<rect x="731.66" y="54.5" width="2.3" height="3.30" fill="#a88c10"/>
<line x1="732.81" y1="54.5" x2="732.81" y2="57.80" stroke="#ccac20" stroke-width="0.8"/>
<line x1="735.48" y1="38.5" x2="735.48" y2="54.5" stroke="#c0a018" stroke-width="1"/>
<rect x="734.33" y="40.0" width="2.3" height="13.40" fill="#a88c10"/>
<line x1="735.48" y1="40.0" x2="735.48" y2="53.40" stroke="#ccac20" stroke-width="0.8"/>
<line x1="738.14" y1="36.9" x2="738.14" y2="52.8" stroke="#a018b8" stroke-width="1"/>
<rect x="736.99" y="40.0" width="2.3" height="11.00" fill="#9c14b4"/>
<line x1="738.14" y1="40.80" x2="738.14" y2="50.20" stroke="#f6d4f6" stroke-width="0.95"/>
<line x1="740.81" y1="39.6" x2="740.81" y2="51.7" stroke="#c0a018" stroke-width="1"/>
<rect x="739.66" y="40.0" width="2.3" height="10.00" fill="#a88c10"/>
<line x1="740.81" y1="40.0" x2="740.81" y2="50.00" stroke="#ccac20" stroke-width="0.8"/>
<line x1="743.47" y1="37.4" x2="743.47" y2="52.8" stroke="#a018b8" stroke-width="1"/>
<rect x="742.32" y="39.6" width="2.3" height="8.80" fill="#9c14b4"/>
<line x1="743.47" y1="40.40" x2="743.47" y2="47.60" stroke="#f6d4f6" stroke-width="0.95"/>
<line x1="746.13" y1="39.0" x2="746.13" y2="51.2" stroke="#c0a018" stroke-width="1"/>
<rect x="744.99" y="42.4" width="2.3" height="7.10" fill="#a88c10"/>
<line x1="746.13" y1="42.4" x2="746.13" y2="49.50" stroke="#ccac20" stroke-width="0.8"/>
<line x1="748.80" y1="32.5" x2="748.80" y2="42.9" stroke="#c0a018" stroke-width="1"/>
<rect x="747.65" y="34.0" width="2.3" height="8.40" fill="#a88c10"/>
<line x1="748.80" y1="34.0" x2="748.80" y2="42.40" stroke="#ccac20" stroke-width="0.8"/>
<line x1="751.47" y1="33.0" x2="751.47" y2="39.6" stroke="#a018b8" stroke-width="1"/>
<rect x="750.32" y="36.3" width="2.3" height="1.00" fill="#9c14b4"/>
</g>
<polyline points="1.6,456.0 4.8,462.6 8.0,473.8 11.2,459.4 14.4,421.0 17.6,390.6 20.8,384.2 24.0,397.0 27.2,389.0 29.4,384.2 32.0,390.6 34.6,392.2 36.8,414.6 40.0,435.4 43.2,446.0 46.4,430.6 49.6,395.4 52.8,365.0 56.0,352.2 59.2,348.0 62.4,345.8 65.6,339.4 68.8,336.2 72.0,334.0 78.4,334.0 83.2,330.8 89.6,326.6 92.8,328.2 95.0,333.0 98.2,339.4 101.4,353.8 104.6,377.8 107.8,408.2 111.0,440.2 113.6,448.2 116.8,446.6 119.0,453.0 122.2,457.2 125.4,449.8 130.2,433.8 133.4,421.0 136.6,395.4 139.8,374.6 143.0,366.6 146.2,373.0 149.4,360.2 152.6,337.8 155.8,331.4 162.2,331.4 171.8,329.8 176.6,327.2 186.2,326.6 194.2,328.8 198.0,328.8 201.2,331.4 204.4,347.4 207.6,369.8 210.8,387.4 214.0,391.6 218.2,393.8 221.4,379.4 224.2,370.4 226.8,376.2 229.0,390.6 231.6,398.0 234.8,382.6 237.4,367.2 240.6,379.4 244.4,382.0 247.6,385.8 250.8,393.8 253.4,396.0 258.2,385.2 260.4,403.4 263.6,404.4 266.8,424.2 269.4,433.8 271.6,429.0 273.8,432.2 277.0,445.0 280.2,430.6 282.8,417.8 286.0,418.4 289.8,421.0 293.0,433.8 296.2,448.2 299.4,461.0 302.6,465.8 305.8,459.4 309.0,445.0 312.2,424.2 315.4,398.6 318.6,369.8 321.8,341.0 324.4,334.6 326.6,339.4 329.8,353.8 332.4,381.0 335.6,409.8 338.8,403.4 342.0,392.2 344.2,384.2 346.4,382.6 349.0,367.2 352.2,373.0 354.8,381.0 357.0,393.8 360.2,403.4 363.4,421.0 366.6,437.0 370.4,452.0 374.6,427.4 377.8,414.6 381.0,397.0 383.2,392.2 386.4,369.8 389.6,350.6 392.8,344.2 396.0,345.8 399.2,350.6 402.4,357.0 405.6,363.4 408.8,360.2 412.0,339.4 415.2,333.0 421.6,332.0 426.4,332.0 431.2,330.8 434.4,333.0 439.2,339.4 442.4,345.8 445.6,347.4 452.0,346.8 458.4,349.0 463.8,341.0 467.0,343.6 471.2,350.6 474.4,353.2 478.2,361.8 479.8,368.2 484.6,368.2 489.4,366.0 491.6,369.8 493.6,381.0 495.8,387.4 499.0,411.4 502.2,437.0 505.4,456.2 508.6,469.0 510.8,471.6 513.4,467.4 516.6,454.6 519.2,449.8 522.4,432.2 526.2,419.4 528.8,415.2 532.6,416.2 535.8,424.2 539.0,437.0 542.2,453.0 545.4,464.2 548.0,465.8 550.2,461.0 553.4,433.8 556.6,408.2 559.8,387.4 564.0,390.6 567.2,369.8 570.4,361.8 573.2,358.6 578.0,358.6 581.2,356.0 583.4,373.0 586.0,392.2 589.2,413.0 592.4,424.2 595.6,437.0 598.8,451.4 602.0,469.0 605.2,472.2 608.4,469.0 613.2,462.6 616.4,453.0 619.6,440.2 622.8,430.6 625.0,417.8 627.6,410.8 630.8,417.8 634.0,437.0 637.2,456.2 640.4,470.6 643.6,475.4 646.8,472.8 650.0,470.6 653.2,459.4 656.4,433.8 659.6,405.0 661.6,389.0 663.8,363.4 666.4,347.4 669.6,334.6 674.4,328.2 679.2,327.6 683.0,328.2 687.2,329.8 692.0,329.8 695.2,330.8 700.0,329.8 703.2,341.0 706.4,352.2 709.6,376.2 712.8,405.0 714.4,413.0 717.6,398.6 721.4,380.0 724.0,393.8 727.2,396.0 731.0,373.0 735.2,350.6 738.4,339.4 741.6,337.8 744.8,338.5 748.0,340.0 751.2,340.4" fill="none" stroke="#2f6cbc" stroke-width="1.35" stroke-linejoin="round"/>
<g fill="#a2194b" transform="matrix(1,0,-0.15,1,39.150,0)"><path transform="translate(129.40,238.00)" fill-rule="nonzero" d="M0.00,0.00 L19.40,0.00 L19.40,4.30 L0.00,4.30 Z M6.90,4.20 L12.50,4.20 L12.50,23.00 L6.90,23.00 Z"/><path transform="translate(151.00,238.00)" fill-rule="evenodd" d="M3.50,0.00 L15.80,0.00 L19.30,3.50 L19.30,19.50 L15.80,23.00 L3.50,23.00 L0.00,19.50 L0.00,3.50 Z M6.00,4.30 L13.30,4.30 L14.30,5.30 L14.30,17.70 L13.30,18.70 L6.00,18.70 L5.00,17.70 L5.00,5.30 Z"/><path transform="translate(171.00,238.00)" fill-rule="evenodd" d="M0.00,0.00 L17.50,0.00 L20.50,3.00 L20.50,12.50 L17.50,15.20 L5.00,15.20 L5.00,23.00 L0.00,23.00 Z M5.00,4.30 L15.50,4.30 L15.50,10.80 L5.00,10.80 Z"/><path transform="translate(196.60,238.00)" fill-rule="nonzero" d="M0.00,12.00 L10.60,12.00 L10.60,16.00 L0.00,16.00 Z"/><path transform="translate(210.10,238.00)" fill-rule="nonzero" d="M0.00,0.00 L19.20,0.00 L19.20,4.30 L0.00,4.30 Z M6.80,4.20 L12.40,4.20 L12.40,23.00 L6.80,23.00 Z"/><path transform="translate(231.50,238.00)" fill-rule="evenodd" d="M0.00,0.00 L17.50,0.00 L20.50,3.00 L20.50,23.00 L15.50,23.00 L15.50,14.80 L5.00,14.80 L5.00,23.00 L0.00,23.00 Z M5.00,4.30 L15.50,4.30 L15.50,10.30 L5.00,10.30 Z"/><path transform="translate(255.00,238.00)" fill-rule="evenodd" d="M4.20,0.00 L15.80,0.00 L20.00,23.00 L14.40,23.00 L13.33,16.50 L6.67,16.50 L5.60,23.00 L0.00,23.00 Z M8.80,4.30 L11.20,4.30 L12.59,12.00 L7.41,12.00 Z"/><path transform="translate(277.50,238.00)" fill-rule="evenodd" d="M0.00,0.00 L15.20,0.00 L20.20,5.00 L20.20,18.00 L15.20,23.00 L0.00,23.00 Z M5.00,4.30 L13.20,4.30 L15.20,6.30 L15.20,16.70 L13.20,18.70 L5.00,18.70 Z"/><path transform="translate(301.00,238.00)" fill-rule="nonzero" d="M0.00,0.00 L10.60,0.00 L10.60,3.20 L0.00,3.20 Z M0.00,19.80 L10.60,19.80 L10.60,23.00 L0.00,23.00 Z M2.80,0.00 L7.80,0.00 L7.80,23.00 L2.80,23.00 Z"/><path transform="translate(315.30,238.00)" fill-rule="nonzero" d="M0.00,0.00 L5.80,0.00 L15.00,14.50 L15.00,0.00 L20.00,0.00 L20.00,23.00 L14.20,23.00 L5.00,8.50 L5.00,23.00 L0.00,23.00 Z"/><path transform="translate(340.00,238.00)" fill-rule="nonzero" d="M3.00,0.00 L16.50,0.00 L19.50,3.00 L19.50,6.00 L14.50,6.00 L14.50,4.30 L5.00,4.30 L5.00,18.70 L14.50,18.70 L14.50,14.80 L9.75,14.80 L9.75,10.60 L19.50,10.60 L19.50,20.00 L16.50,23.00 L3.00,23.00 L0.00,20.00 L0.00,3.00 Z"/><path transform="translate(365.20,238.00)" fill-rule="nonzero" d="M0.00,12.00 L10.60,12.00 L10.60,16.00 L0.00,16.00 Z"/><path transform="translate(379.60,238.00)" fill-rule="nonzero" d="M0.00,0.00 L11.00,0.00 L11.00,3.20 L0.00,3.20 Z M0.00,19.80 L11.00,19.80 L11.00,23.00 L0.00,23.00 Z M3.00,0.00 L8.00,0.00 L8.00,23.00 L3.00,23.00 Z"/><path transform="translate(394.25,238.00)" fill-rule="nonzero" d="M0.00,0.00 L5.80,0.00 L15.20,14.50 L15.20,0.00 L20.20,0.00 L20.20,23.00 L14.40,23.00 L5.00,8.50 L5.00,23.00 L0.00,23.00 Z"/><path transform="translate(419.00,238.00)" fill-rule="evenodd" d="M0.00,0.00 L14.50,0.00 L19.50,5.00 L19.50,18.00 L14.50,23.00 L0.00,23.00 Z M5.00,4.30 L12.50,4.30 L14.50,6.30 L14.50,16.70 L12.50,18.70 L5.00,18.70 Z"/><path transform="translate(441.30,238.00)" fill-rule="nonzero" d="M0.00,0.00 L11.00,0.00 L11.00,3.20 L0.00,3.20 Z M0.00,19.80 L11.00,19.80 L11.00,23.00 L0.00,23.00 Z M3.00,0.00 L8.00,0.00 L8.00,23.00 L3.00,23.00 Z"/><path transform="translate(456.00,238.00)" fill-rule="nonzero" d="M3.00,0.00 L15.00,0.00 L18.00,3.00 L18.00,6.50 L13.00,6.50 L13.00,4.30 L5.00,4.30 L5.00,18.70 L13.00,18.70 L13.00,16.50 L18.00,16.50 L18.00,20.00 L15.00,23.00 L3.00,23.00 L0.00,20.00 L0.00,3.00 Z"/><path transform="translate(476.60,238.00)" fill-rule="evenodd" d="M4.20,0.00 L16.00,0.00 L20.20,23.00 L14.60,23.00 L13.53,16.50 L6.67,16.50 L5.60,23.00 L0.00,23.00 Z M8.80,4.30 L11.40,4.30 L12.79,12.00 L7.41,12.00 Z"/><path transform="translate(497.40,238.00)" fill-rule="nonzero" d="M0.00,0.00 L18.50,0.00 L18.50,4.30 L0.00,4.30 Z M6.45,4.20 L12.05,4.20 L12.05,23.00 L6.45,23.00 Z"/><path transform="translate(519.25,238.00)" fill-rule="evenodd" d="M3.50,0.00 L15.50,0.00 L19.00,3.50 L19.00,19.50 L15.50,23.00 L3.50,23.00 L0.00,19.50 L0.00,3.50 Z M6.00,4.30 L13.00,4.30 L14.00,5.30 L14.00,17.70 L13.00,18.70 L6.00,18.70 L5.00,17.70 L5.00,5.30 Z"/><path transform="translate(541.75,238.00)" fill-rule="evenodd" d="M0.00,0.00 L17.25,0.00 L20.25,3.00 L20.25,23.00 L15.25,23.00 L15.25,14.80 L5.00,14.80 L5.00,23.00 L0.00,23.00 Z M5.00,4.30 L15.25,4.30 L15.25,10.30 L5.00,10.30 Z"/><path transform="translate(566.00,238.00)" fill-rule="nonzero" d="M3.00,0.00 L15.00,0.00 L18.00,3.00 L18.00,6.00 L13.00,6.00 L13.00,4.30 L5.00,4.30 L5.00,9.40 L15.00,9.40 L18.00,12.40 L18.00,20.00 L15.00,23.00 L3.00,23.00 L0.00,20.00 L0.00,17.00 L5.00,17.00 L5.00,18.70 L13.00,18.70 L13.00,13.60 L3.00,13.60 L0.00,10.60 L0.00,3.00 Z"/><path transform="translate(588.00,238.00)" fill-rule="nonzero" d="M0.00,18.40 L5.00,18.40 L5.00,23.00 L0.00,23.00 Z"/><path transform="translate(601.40,238.00)" fill-rule="nonzero" d="M3.00,0.00 L15.00,0.00 L18.00,3.00 L18.00,6.50 L13.00,6.50 L13.00,4.30 L5.00,4.30 L5.00,18.70 L13.00,18.70 L13.00,16.50 L18.00,16.50 L18.00,20.00 L15.00,23.00 L3.00,23.00 L0.00,20.00 L0.00,3.00 Z"/><path transform="translate(620.00,238.00)" fill-rule="evenodd" d="M3.50,0.00 L16.10,0.00 L19.60,3.50 L19.60,19.50 L16.10,23.00 L3.50,23.00 L0.00,19.50 L0.00,3.50 Z M6.00,4.30 L13.60,4.30 L14.60,5.30 L14.60,17.70 L13.60,18.70 L6.00,18.70 L5.00,17.70 L5.00,5.30 Z"/><path transform="translate(643.00,238.00)" fill-rule="nonzero" d="M0.00,0.00 L6.00,0.00 L12.38,10.50 L18.75,0.00 L24.75,0.00 L24.75,23.00 L19.75,23.00 L19.75,9.00 L14.38,17.00 L10.38,17.00 L5.00,9.00 L5.00,23.00 L0.00,23.00 Z"/></g>
<rect x="1" y="1" width="756" height="2" fill="#9a9a9a"/>
<rect x="1" y="1" width="2" height="483" fill="#9a9a9a"/>
<rect x="1" y="322" width="756" height="3" fill="#a0a0a0"/>
<rect x="1" y="483.2" width="757" height="1.6" fill="#b0b0b0"/>
<rect x="757" y="1" width="1.2" height="484" fill="#c0c0c0"/>
<path d="M4,6.5 L10,6.5 L7,10 Z" fill="#ffffff"/>
<text x="14.18" y="11.40" class="t" font-size="8.83" textLength="47.96" lengthAdjust="spacingAndGlyphs">EURUSD,Daily</text>
<text x="68.49" y="11.40" class="t" font-size="9.14" textLength="29.59" lengthAdjust="spacingAndGlyphs">1.22476</text>
<text x="101.62" y="11.40" class="t" font-size="9.14" textLength="30.35" lengthAdjust="spacingAndGlyphs">1.22622</text>
<text x="134.11" y="11.40" class="t" font-size="9.14" textLength="30.84" lengthAdjust="spacingAndGlyphs">1.22320</text>
<text x="167.72" y="11.40" class="t" font-size="9.14" textLength="30.41" lengthAdjust="spacingAndGlyphs">1.22439</text>
<line x1="758" y1="16.5" x2="760" y2="16.5" stroke="#c0c0c0" stroke-width="1"/>
<text x="761.40" y="19.95" class="t" font-size="9.57" textLength="31.19" lengthAdjust="spacingAndGlyphs">1.23545</text>
<line x1="758" y1="49.0" x2="760" y2="49.0" stroke="#c0c0c0" stroke-width="1"/>
<text x="761.40" y="52.45" class="t" font-size="9.57" textLength="31.15" lengthAdjust="spacingAndGlyphs">1.21760</text>
<line x1="758" y1="81.5" x2="760" y2="81.5" stroke="#c0c0c0" stroke-width="1"/>
<text x="761.40" y="84.95" class="t" font-size="9.57" textLength="31.19" lengthAdjust="spacingAndGlyphs">1.19975</text>
<line x1="758" y1="114.0" x2="760" y2="114.0" stroke="#c0c0c0" stroke-width="1"/>
<text x="761.40" y="117.45" class="t" font-size="9.57" textLength="31.19" lengthAdjust="spacingAndGlyphs">1.18225</text>
<line x1="758" y1="146.5" x2="760" y2="146.5" stroke="#c0c0c0" stroke-width="1"/>
<text x="761.40" y="149.95" class="t" font-size="9.57" textLength="31.15" lengthAdjust="spacingAndGlyphs">1.16440</text>
<line x1="758" y1="179.0" x2="760" y2="179.0" stroke="#c0c0c0" stroke-width="1"/>
<text x="761.40" y="182.45" class="t" font-size="9.57" textLength="31.19" lengthAdjust="spacingAndGlyphs">1.14655</text>
<line x1="758" y1="211.5" x2="760" y2="211.5" stroke="#c0c0c0" stroke-width="1"/>
<text x="761.40" y="214.95" class="t" font-size="9.57" textLength="31.15" lengthAdjust="spacingAndGlyphs">1.12870</text>
<line x1="758" y1="244.0" x2="760" y2="244.0" stroke="#c0c0c0" stroke-width="1"/>
<text x="761.39" y="247.45" class="t" font-size="9.57" textLength="31.22" lengthAdjust="spacingAndGlyphs">1.11085</text>
<line x1="758" y1="276.5" x2="760" y2="276.5" stroke="#c0c0c0" stroke-width="1"/>
<text x="761.40" y="279.95" class="t" font-size="9.57" textLength="31.15" lengthAdjust="spacingAndGlyphs">1.09300</text>
<line x1="758" y1="309.0" x2="760" y2="309.0" stroke="#c0c0c0" stroke-width="1"/>
<text x="761.40" y="312.45" class="t" font-size="9.57" textLength="31.19" lengthAdjust="spacingAndGlyphs">1.07515</text>
<line x1="2.5" y1="485" x2="2.5" y2="487" stroke="#c0c0c0" stroke-width="1"/>
<text x="1.02" y="494.80" class="t" font-size="9.29" textLength="46.22" lengthAdjust="spacingAndGlyphs">24 Apr 2020</text>
<line x1="66.5" y1="485" x2="66.5" y2="487" stroke="#c0c0c0" stroke-width="1"/>
<text x="65.75" y="494.80" class="t" font-size="9.29" textLength="46.70" lengthAdjust="spacingAndGlyphs">28 May 2020</text>
<line x1="130.5" y1="485" x2="130.5" y2="487" stroke="#c0c0c0" stroke-width="1"/>
<text x="129.44" y="494.80" class="t" font-size="8.97" textLength="37.29" lengthAdjust="spacingAndGlyphs">1 Jul 2020</text>
<line x1="194.5" y1="485" x2="194.5" y2="487" stroke="#c0c0c0" stroke-width="1"/>
<text x="193.38" y="494.80" class="t" font-size="9.29" textLength="43.48" lengthAdjust="spacingAndGlyphs">4 Aug 2020</text>
<line x1="258.5" y1="485" x2="258.5" y2="487" stroke="#c0c0c0" stroke-width="1"/>
<text x="257.33" y="494.80" class="t" font-size="9.29" textLength="42.62" lengthAdjust="spacingAndGlyphs">7 Sep 2020</text>
<line x1="322.5" y1="485" x2="322.5" y2="487" stroke="#c0c0c0" stroke-width="1"/>
<text x="321.37" y="494.80" class="t" font-size="9.29" textLength="41.50" lengthAdjust="spacingAndGlyphs">9 Oct 2020</text>
<line x1="386.5" y1="485" x2="386.5" y2="487" stroke="#c0c0c0" stroke-width="1"/>
<text x="385.43" y="494.80" class="t" font-size="9.29" textLength="46.51" lengthAdjust="spacingAndGlyphs">12 Nov 2020</text>
<line x1="450.5" y1="485" x2="450.5" y2="487" stroke="#c0c0c0" stroke-width="1"/>
<text x="449.12" y="494.80" class="t" font-size="9.29" textLength="47.53" lengthAdjust="spacingAndGlyphs">16 Dec 2020</text>
<line x1="514.5" y1="485" x2="514.5" y2="487" stroke="#c0c0c0" stroke-width="1"/>
<text x="513.24" y="494.80" class="t" font-size="9.29" textLength="44.77" lengthAdjust="spacingAndGlyphs">21 Jan 2021</text>
<line x1="578.5" y1="485" x2="578.5" y2="487" stroke="#c0c0c0" stroke-width="1"/>
<text x="577.04" y="494.80" class="t" font-size="8.97" textLength="46.19" lengthAdjust="spacingAndGlyphs">24 Feb 2021</text>
<line x1="642.5" y1="485" x2="642.5" y2="487" stroke="#c0c0c0" stroke-width="1"/>
<text x="641.23" y="494.80" class="t" font-size="9.29" textLength="45.49" lengthAdjust="spacingAndGlyphs">30 Mar 2021</text>
<line x1="706.5" y1="485" x2="706.5" y2="487" stroke="#c0c0c0" stroke-width="1"/>
<text x="704.83" y="494.80" class="t" font-size="9.29" textLength="42.40" lengthAdjust="spacingAndGlyphs">3 May 2021</text>
<text x="4.75" y="334.60" class="t" font-size="9.24" textLength="38.73" lengthAdjust="spacingAndGlyphs">j-tpo-audio</text>
<text x="47.01" y="334.60" class="t" font-size="9.57" textLength="25.76" lengthAdjust="spacingAndGlyphs">0.8066</text>
<text x="759.78" y="333.60" class="t" font-size="9.28" textLength="4.22" lengthAdjust="spacingAndGlyphs">1</text>
<text x="760.02" y="407.30" class="t" font-size="8.43" textLength="15.92" lengthAdjust="spacingAndGlyphs">0.00</text>
<text x="760.00" y="481.80" class="t" font-size="8.41" textLength="7.00" lengthAdjust="spacingAndGlyphs">-1</text>
<rect x="758.7" y="31.9" width="37" height="9.3" fill="#ffffff"/>
<text x="762.03" y="40.00" class="t" font-size="8.86" textLength="29.99" lengthAdjust="spacingAndGlyphs" style="fill:#000;stroke:#000">1.22439</text>
<line x1="758" y1="325" x2="760" y2="325" stroke="#c0c0c0"/>
<line x1="758" y1="404.5" x2="760" y2="404.5" stroke="#c0c0c0"/>
</svg>
</body></html>
